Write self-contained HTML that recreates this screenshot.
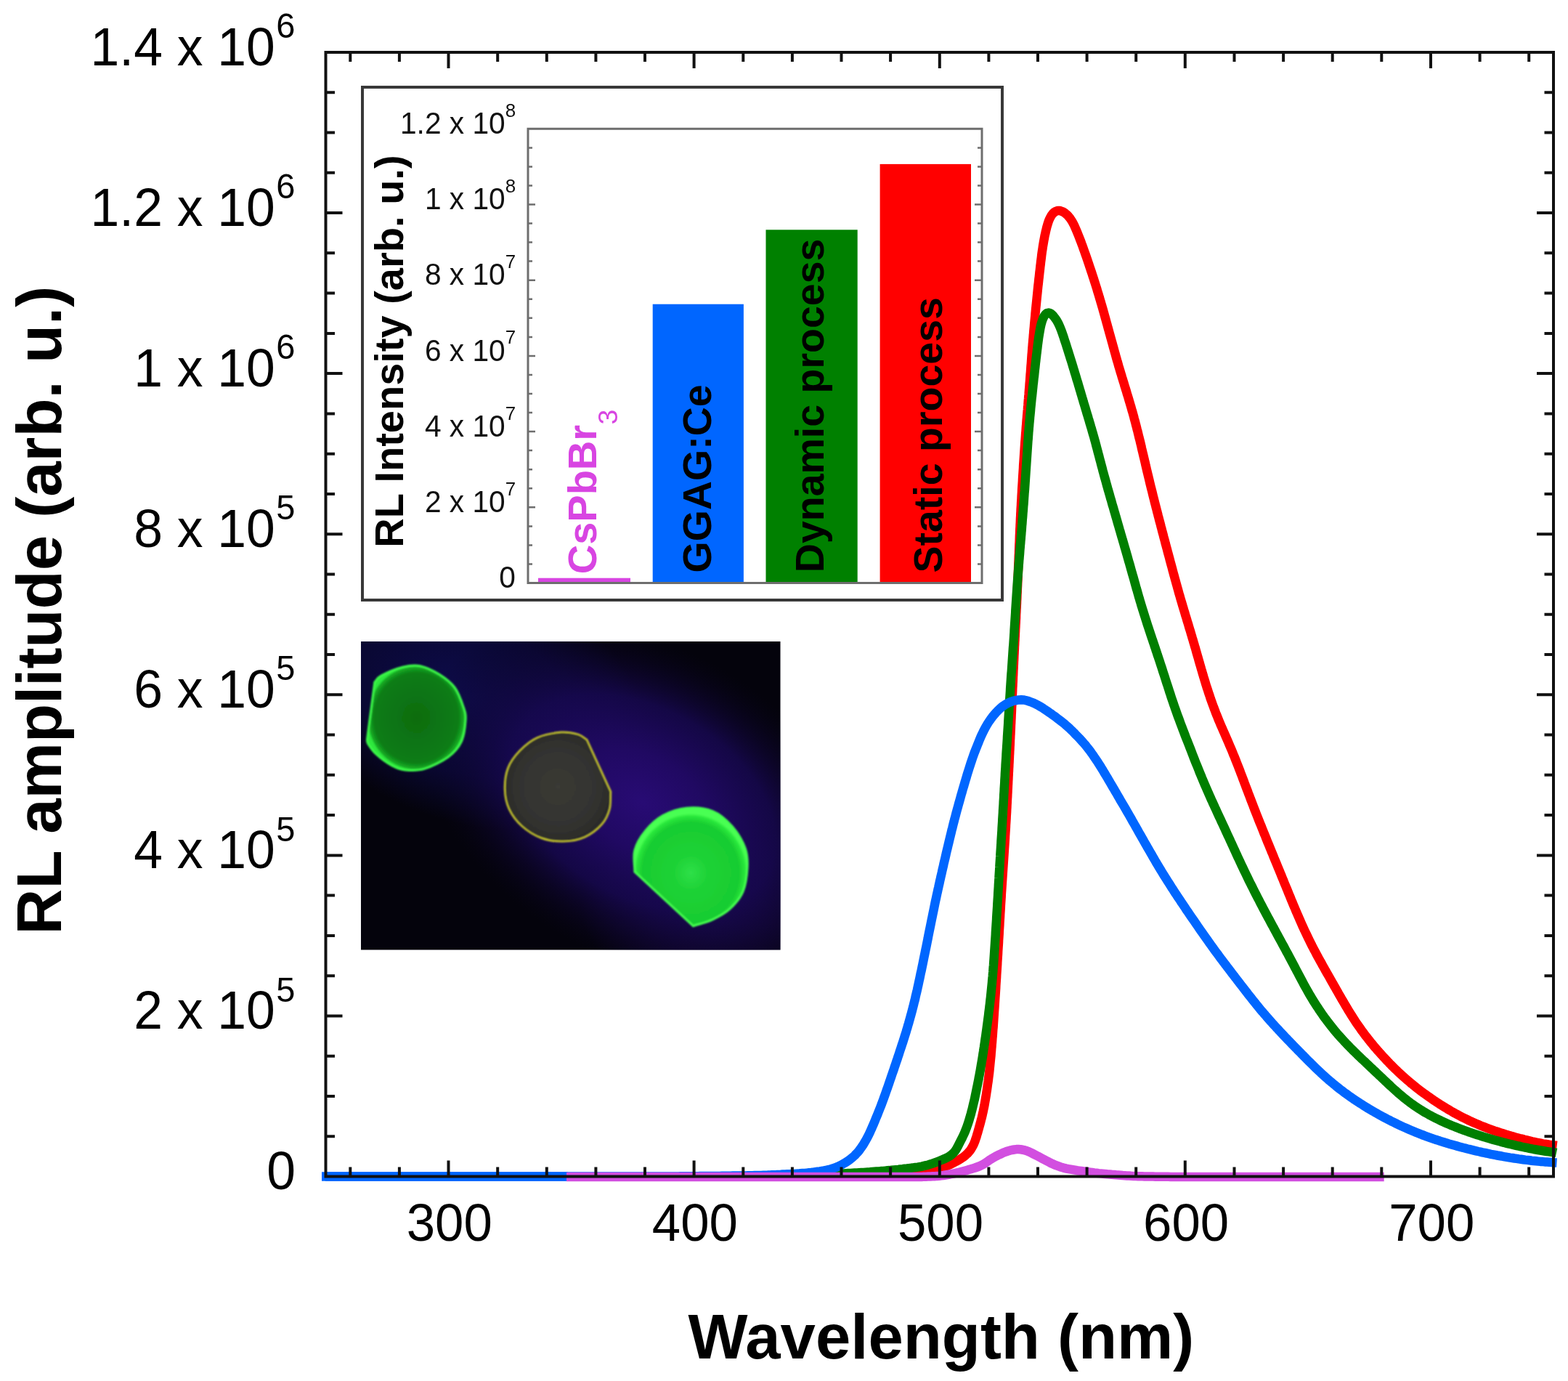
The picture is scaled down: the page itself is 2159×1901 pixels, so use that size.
<!DOCTYPE html><html><head><meta charset="utf-8"><title>RL amplitude vs Wavelength</title>
<style>html,body{margin:0;padding:0;background:#fff;}body{width:2159px;height:1901px;overflow:hidden;}svg{display:block;}text{font-family:'Liberation Sans', Arial, Helvetica, sans-serif;}</style></head><body>
<svg xmlns="http://www.w3.org/2000/svg" width="2159" height="1901" viewBox="0 0 2159 1901">
<defs>
<radialGradient id="glow" cx="0" cy="0" r="1" gradientUnits="userSpaceOnUse" gradientTransform="translate(885,1105) rotate(30) scale(330,215)">
<stop offset="0" stop-color="#280b74"/><stop offset="0.3" stop-color="#200962"/><stop offset="0.6" stop-color="#170850" stop-opacity="0.85"/><stop offset="1" stop-color="#0a0420" stop-opacity="0"/>
</radialGradient>
<radialGradient id="glow2" cx="0" cy="0" r="1" gradientUnits="userSpaceOnUse" gradientTransform="translate(640,960) rotate(20) scale(260,170)">
<stop offset="0" stop-color="#0e0c4e"/><stop offset="0.6" stop-color="#0c0a44" stop-opacity="0.7"/><stop offset="1" stop-color="#0c0a44" stop-opacity="0"/>
</radialGradient>
<radialGradient id="glow3" cx="0" cy="0" r="1" gradientUnits="userSpaceOnUse" gradientTransform="translate(980,1250) rotate(0) scale(180,120)">
<stop offset="0" stop-color="#1e0a5a" stop-opacity="0.8"/><stop offset="1" stop-color="#1e0a5a" stop-opacity="0"/>
</radialGradient>
<radialGradient id="c1" cx="0.5" cy="0.5" r="0.5">
<stop offset="0" stop-color="#096c10"/><stop offset="0.85" stop-color="#0b7c15"/><stop offset="0.96" stop-color="#16a824"/><stop offset="1" stop-color="#2ee83c"/>
</radialGradient>
<radialGradient id="c3" cx="0.5" cy="0.55" r="0.5">
<stop offset="0" stop-color="#2ee048"/><stop offset="0.3" stop-color="#1ed236"/><stop offset="0.85" stop-color="#18cc30"/><stop offset="0.96" stop-color="#2ae83c"/><stop offset="1" stop-color="#48ff52"/>
</radialGradient>
<radialGradient id="c2" cx="0.5" cy="0.5" r="0.5">
<stop offset="0" stop-color="#3a3a34"/><stop offset="0.7" stop-color="#333330"/><stop offset="1" stop-color="#2c2c2a"/>
</radialGradient>
<filter id="bl" x="-10%" y="-10%" width="120%" height="120%"><feGaussianBlur stdDeviation="0.9"/></filter>
</defs>

<rect x="497" y="883" width="577.5" height="424.5" fill="#04030c"/>
<rect x="497" y="883" width="577.5" height="424.5" fill="url(#glow2)"/>
<rect x="497" y="883" width="577.5" height="424.5" fill="url(#glow3)"/>
<rect x="497" y="883" width="577.5" height="424.5" fill="url(#glow)"/>
<g filter="url(#bl)">
<path d="M515.8,939.1 C518.8,936.1 518.3,933.6 524.8,930.1 C531.3,926.6 545.6,920.4 554.6,918.2 C563.6,916.0 570.0,915.0 578.5,916.7 C587.0,918.4 597.3,923.6 605.3,928.6 C613.2,933.6 620.7,939.0 626.2,946.5 C631.7,954.0 635.7,965.9 638.2,973.4 C640.7,980.9 641.6,983.3 641.1,991.3 C640.6,999.2 639.2,1012.6 635.2,1021.1 C631.2,1029.5 625.8,1035.8 617.3,1042.0 C608.8,1048.2 594.3,1055.4 584.4,1058.4 C574.5,1061.4 565.0,1060.6 557.6,1059.9 C550.2,1059.2 546.2,1057.5 539.7,1054.0 C533.2,1050.5 524.3,1044.0 518.8,1039.0 C513.3,1034.0 509.1,1027.6 506.9,1024.1 C504.7,1020.6 505.9,1020.2 505.4,1018.2 L515.8,939.1 Z" fill="url(#c1)" stroke="#3dfa4a" stroke-width="3"/>
<path d="M772.4,1007.7 C781.8,1007.0 790.3,1009.0 796.3,1010.7 C802.3,1012.5 804.3,1015.7 808.3,1018.2 L841.1,1089.8 C840.6,1097.8 841.6,1106.2 839.6,1113.7 C837.6,1121.2 834.8,1128.0 829.1,1134.5 C823.4,1141.0 814.2,1148.4 805.3,1152.4 C796.3,1156.4 785.3,1158.2 775.4,1158.4 C765.5,1158.7 755.0,1157.4 745.6,1153.9 C736.2,1150.4 726.2,1144.2 718.7,1137.5 C711.2,1130.8 704.8,1122.2 700.8,1113.7 C696.8,1105.2 695.1,1096.2 694.9,1086.8 C694.6,1077.3 695.8,1066.0 699.3,1057.0 C702.8,1048.0 709.0,1040.1 715.7,1033.1 C722.4,1026.1 730.2,1019.4 739.6,1015.2 C749.0,1011.0 763.0,1008.5 772.4,1007.7 Z" fill="url(#c2)" stroke="#cccc2a" stroke-width="2.2"/>
<path d="M945.5,1112.2 C956.9,1111.2 970.8,1112.4 981.3,1116.6 C991.8,1120.8 1000.7,1129.0 1008.2,1137.5 C1015.7,1146.0 1022.6,1158.0 1026.1,1167.4 C1029.6,1176.9 1029.6,1184.2 1029.1,1194.2 C1028.6,1204.2 1027.1,1217.6 1023.1,1227.1 C1019.1,1236.5 1012.2,1244.5 1005.2,1250.9 C998.2,1257.4 989.8,1261.8 981.3,1265.8 C972.8,1269.8 963.4,1271.8 954.5,1274.8 L873.9,1200.2 C873.9,1190.3 871.4,1179.9 873.9,1170.4 C876.4,1161.0 882.3,1151.5 888.8,1143.5 C895.3,1135.5 903.2,1127.8 912.7,1122.6 C922.2,1117.4 934.1,1113.2 945.5,1112.2 Z" fill="url(#c3)" stroke="#45ff50" stroke-width="3"/>
</g>

<rect x="499" y="120" width="881" height="706" fill="none" stroke="#383838" stroke-width="4"/>
<rect x="741" y="795.7" width="127" height="6.8" fill="#d845e2"/>
<rect x="898.7" y="418.7" width="125.2" height="383.8" fill="#0066ff"/>
<rect x="1054.5" y="316.3" width="126.2" height="486.2" fill="#008000"/>
<rect x="1211.6" y="225.9" width="125.4" height="576.6" fill="#ff0000"/>
<rect x="727" y="177.3" width="625" height="625.2" fill="none" stroke="#6e6e6e" stroke-width="3"/>
<path d="M727,776.5h6 M1352,776.5h-6 M727,750.4h6 M1352,750.4h-6 M727,724.4h6 M1352,724.4h-6 M727,698.3h10 M1352,698.3h-10 M727,672.2h6 M1352,672.2h-6 M727,646.2h6 M1352,646.2h-6 M727,620.1h6 M1352,620.1h-6 M727,594.1h10 M1352,594.1h-10 M727,568.0h6 M1352,568.0h-6 M727,542.0h6 M1352,542.0h-6 M727,516.0h6 M1352,516.0h-6 M727,489.9h10 M1352,489.9h-10 M727,463.9h6 M1352,463.9h-6 M727,437.8h6 M1352,437.8h-6 M727,411.8h6 M1352,411.8h-6 M727,385.7h10 M1352,385.7h-10 M727,359.6h6 M1352,359.6h-6 M727,333.6h6 M1352,333.6h-6 M727,307.5h6 M1352,307.5h-6 M727,281.5h10 M1352,281.5h-10 M727,255.4h6 M1352,255.4h-6 M727,229.4h6 M1352,229.4h-6 M727,203.4h6 M1352,203.4h-6" stroke="#6e6e6e" stroke-width="2.5" fill="none"/>
<text transform="translate(710,809.1) scale(1,1.025)" font-size="40.7" text-anchor="end" fill="#111">0</text>
<text transform="translate(710.2,704.9) scale(1,1.025)" font-size="40.7" text-anchor="end" fill="#111">2 x 10<tspan font-size="26" dy="-22.5">7</tspan></text>
<text transform="translate(710.2,600.7) scale(1,1.025)" font-size="40.7" text-anchor="end" fill="#111">4 x 10<tspan font-size="26" dy="-22.5">7</tspan></text>
<text transform="translate(710.2,496.5) scale(1,1.025)" font-size="40.7" text-anchor="end" fill="#111">6 x 10<tspan font-size="26" dy="-22.5">7</tspan></text>
<text transform="translate(710.2,392.3) scale(1,1.025)" font-size="40.7" text-anchor="end" fill="#111">8 x 10<tspan font-size="26" dy="-22.5">7</tspan></text>
<text transform="translate(710.2,288.1) scale(1,1.025)" font-size="40.7" text-anchor="end" fill="#111">1 x 10<tspan font-size="26" dy="-22.5">8</tspan></text>
<text transform="translate(710.2,183.9) scale(1,1.025)" font-size="40.7" text-anchor="end" fill="#111">1.2 x 10<tspan font-size="26" dy="-22.5">8</tspan></text>
<text transform="translate(555,753.8) rotate(-90)" font-size="56" font-weight="bold" fill="#000">RL Intensity (arb. u.)</text>
<text transform="translate(820.5,790.3) rotate(-90)" font-size="56" font-weight="bold" fill="#d845e2">CsPbBr<tspan font-size="37.5" font-weight="normal" dx="0.4" dy="29.6">3</tspan></text>
<text transform="translate(978.9,788.4) rotate(-90)" font-size="55.5" font-weight="bold" fill="#000">GGAG:Ce</text>
<text transform="translate(1134,788.2) rotate(-90)" font-size="55.5" font-weight="bold" fill="#000">Dynamic process</text>
<text transform="translate(1296.6,788.5) rotate(-90)" font-size="55.5" font-weight="bold" fill="#000">Static process</text>
<path d="M443,1619.5 H782" stroke="#0066ff" stroke-width="12.5" fill="none"/>
<path d="M1050.0,1619.5 L1053.0,1619.5 L1056.0,1619.5 L1059.0,1619.5 L1062.0,1619.5 L1065.0,1619.4 L1068.0,1619.4 L1071.0,1619.4 L1074.0,1619.4 L1077.0,1619.4 L1080.0,1619.4 L1083.0,1619.4 L1086.0,1619.4 L1089.0,1619.3 L1092.0,1619.3 L1095.0,1619.3 L1098.0,1619.3 L1101.0,1619.3 L1104.0,1619.3 L1107.0,1619.3 L1110.0,1619.2 L1113.0,1619.2 L1116.0,1619.2 L1119.0,1619.2 L1122.0,1619.2 L1125.0,1619.1 L1128.0,1619.1 L1131.0,1619.1 L1134.0,1619.1 L1137.0,1619.0 L1140.0,1619.0 L1143.0,1619.0 L1146.0,1618.9 L1149.0,1618.9 L1152.0,1618.8 L1155.0,1618.8 L1158.0,1618.8 L1161.0,1618.7 L1164.0,1618.7 L1167.0,1618.6 L1170.0,1618.5 L1173.0,1618.5 L1176.0,1618.4 L1179.0,1618.3 L1182.0,1618.2 L1185.0,1618.1 L1188.0,1618.0 L1191.0,1617.9 L1194.0,1617.8 L1197.0,1617.7 L1200.0,1617.6 L1203.0,1617.5 L1206.0,1617.4 L1209.0,1617.3 L1212.0,1617.1 L1215.0,1617.0 L1217.9,1616.9 L1220.9,1616.7 L1223.9,1616.5 L1226.9,1616.4 L1229.9,1616.2 L1232.9,1616.0 L1235.9,1615.8 L1238.9,1615.6 L1241.9,1615.3 L1244.9,1615.1 L1247.9,1614.8 L1250.9,1614.5 L1253.8,1614.3 L1256.8,1614.0 L1259.8,1613.6 L1262.8,1613.3 L1265.8,1613.0 L1268.7,1612.6 L1271.7,1612.2 L1274.7,1611.8 L1277.7,1611.4 L1280.6,1611.0 L1283.6,1610.5 L1286.5,1610.0 L1289.5,1609.4 L1292.4,1608.8 L1295.3,1608.0 L1298.2,1607.0 L1301.0,1606.0 L1303.8,1604.9 L1306.5,1603.8 L1309.2,1602.5 L1311.9,1601.2 L1314.5,1599.8 L1317.2,1598.4 L1319.8,1597.0 L1322.3,1595.4 L1324.8,1593.8 L1327.3,1592.1 L1329.6,1590.2 L1331.8,1588.2 L1333.8,1586.0 L1335.7,1583.7 L1337.4,1581.2 L1338.9,1578.6 L1340.3,1576.0 L1341.5,1573.3 L1342.6,1570.5 L1343.5,1567.6 L1344.5,1564.8 L1345.3,1561.9 L1346.2,1559.1 L1347.0,1556.2 L1347.8,1553.3 L1348.6,1550.4 L1349.4,1547.5 L1350.2,1544.6 L1350.9,1541.7 L1351.7,1538.8 L1352.4,1535.9 L1353.0,1533.0 L1353.7,1530.1 L1354.3,1527.1 L1354.9,1524.2 L1355.5,1521.2 L1356.0,1518.3 L1356.5,1515.4 L1357.0,1512.4 L1357.5,1509.4 L1358.0,1506.5 L1358.4,1503.5 L1358.9,1500.6 L1359.3,1497.6 L1359.7,1494.6 L1360.1,1491.7 L1360.6,1488.7 L1361.0,1485.7 L1361.3,1482.8 L1361.7,1479.8 L1362.1,1476.8 L1362.4,1473.8 L1362.7,1470.9 L1363.0,1467.9 L1363.3,1464.9 L1363.6,1461.9 L1363.9,1458.9 L1364.2,1455.9 L1364.5,1453.0 L1364.7,1450.0 L1365.0,1447.0 L1365.2,1444.0 L1365.5,1441.0 L1365.7,1438.0 L1366.0,1435.0 L1366.2,1432.0 L1366.4,1429.0 L1366.7,1426.1 L1366.9,1423.1 L1367.1,1420.1 L1367.3,1417.1 L1367.6,1414.1 L1367.8,1411.1 L1368.0,1408.1 L1368.2,1405.1 L1368.4,1402.1 L1368.6,1399.1 L1368.8,1396.1 L1369.0,1393.1 L1369.2,1390.1 L1369.4,1387.2 L1369.6,1384.2 L1369.8,1381.2 L1370.0,1378.2 L1370.2,1375.2 L1370.4,1372.2 L1370.6,1369.2 L1370.8,1366.2 L1371.0,1363.2 L1371.2,1360.2 L1371.3,1357.2 L1371.5,1354.2 L1371.7,1351.2 L1371.9,1348.2 L1372.1,1345.2 L1372.2,1342.2 L1372.4,1339.3 L1372.6,1336.3 L1372.8,1333.3 L1373.0,1330.3 L1373.2,1327.3 L1373.3,1324.3 L1373.5,1321.3 L1373.7,1318.3 L1373.9,1315.3 L1374.1,1312.3 L1374.2,1309.3 L1374.4,1306.3 L1374.6,1303.3 L1374.8,1300.3 L1375.0,1297.3 L1375.1,1294.3 L1375.3,1291.3 L1375.5,1288.3 L1375.7,1285.3 L1375.8,1282.4 L1376.0,1279.4 L1376.2,1276.4 L1376.4,1273.4 L1376.5,1270.4 L1376.7,1267.4 L1376.9,1264.4 L1377.1,1261.4 L1377.2,1258.4 L1377.4,1255.4 L1377.6,1252.4 L1377.8,1249.4 L1377.9,1246.4 L1378.1,1243.4 L1378.3,1240.4 L1378.5,1237.4 L1378.7,1234.4 L1378.8,1231.4 L1379.0,1228.4 L1379.2,1225.5 L1379.4,1222.5 L1379.6,1219.5 L1379.8,1216.5 L1380.0,1213.5 L1380.2,1210.5 L1380.4,1207.5 L1380.6,1204.5 L1380.8,1201.5 L1381.0,1198.5 L1381.2,1195.5 L1381.4,1192.5 L1381.6,1189.5 L1381.8,1186.5 L1382.0,1183.5 L1382.2,1180.6 L1382.4,1177.6 L1382.6,1174.6 L1382.8,1171.6 L1383.0,1168.6 L1383.2,1165.6 L1383.4,1162.6 L1383.6,1159.6 L1383.8,1156.6 L1384.0,1153.6 L1384.1,1150.6 L1384.3,1147.6 L1384.5,1144.6 L1384.7,1141.6 L1384.9,1138.6 L1385.0,1135.6 L1385.2,1132.7 L1385.4,1129.7 L1385.6,1126.7 L1385.7,1123.7 L1385.9,1120.7 L1386.1,1117.7 L1386.2,1114.7 L1386.4,1111.7 L1386.5,1108.7 L1386.7,1105.7 L1386.8,1102.7 L1387.0,1099.7 L1387.2,1096.7 L1387.3,1093.7 L1387.5,1090.7 L1387.6,1087.7 L1387.8,1084.7 L1387.9,1081.7 L1388.1,1078.7 L1388.2,1075.7 L1388.4,1072.7 L1388.5,1069.7 L1388.7,1066.7 L1388.8,1063.7 L1389.0,1060.8 L1389.1,1057.8 L1389.3,1054.8 L1389.4,1051.8 L1389.6,1048.8 L1389.7,1045.8 L1389.9,1042.8 L1390.0,1039.8 L1390.2,1036.8 L1390.3,1033.8 L1390.5,1030.8 L1390.6,1027.8 L1390.8,1024.8 L1390.9,1021.8 L1391.0,1018.8 L1391.2,1015.8 L1391.3,1012.8 L1391.5,1009.8 L1391.6,1006.8 L1391.8,1003.8 L1391.9,1000.8 L1392.0,997.8 L1392.2,994.8 L1392.3,991.8 L1392.5,988.8 L1392.6,985.8 L1392.7,982.8 L1392.9,979.8 L1393.0,976.8 L1393.1,973.9 L1393.3,970.9 L1393.4,967.9 L1393.5,964.9 L1393.7,961.9 L1393.8,958.9 L1393.9,955.9 L1394.1,952.9 L1394.2,949.9 L1394.3,946.9 L1394.5,943.9 L1394.6,940.9 L1394.8,937.9 L1394.9,934.9 L1395.0,931.9 L1395.2,928.9 L1395.3,925.9 L1395.4,922.9 L1395.6,919.9 L1395.7,916.9 L1395.9,913.9 L1396.0,910.9 L1396.2,907.9 L1396.3,904.9 L1396.4,901.9 L1396.6,898.9 L1396.7,895.9 L1396.9,892.9 L1397.0,889.9 L1397.2,886.9 L1397.3,883.9 L1397.5,881.0 L1397.6,878.0 L1397.8,875.0 L1397.9,872.0 L1398.1,869.0 L1398.2,866.0 L1398.4,863.0 L1398.5,860.0 L1398.7,857.0 L1398.8,854.0 L1399.0,851.0 L1399.1,848.0 L1399.2,845.0 L1399.4,842.0 L1399.5,839.0 L1399.7,836.0 L1399.8,833.0 L1400.0,830.0 L1400.1,827.0 L1400.3,824.0 L1400.4,821.0 L1400.5,818.0 L1400.7,815.0 L1400.8,812.0 L1400.9,809.0 L1401.1,806.0 L1401.2,803.0 L1401.3,800.0 L1401.5,797.0 L1401.6,794.1 L1401.7,791.1 L1401.9,788.1 L1402.0,785.1 L1402.1,782.1 L1402.2,779.1 L1402.3,776.1 L1402.5,773.1 L1402.6,770.1 L1402.7,767.1 L1402.8,764.1 L1403.0,761.1 L1403.1,758.1 L1403.2,755.1 L1403.3,752.1 L1403.4,749.1 L1403.6,746.1 L1403.7,743.1 L1403.8,740.1 L1403.9,737.1 L1404.1,734.1 L1404.2,731.1 L1404.3,728.1 L1404.5,725.1 L1404.6,722.1 L1404.8,719.1 L1404.9,716.1 L1405.0,713.1 L1405.2,710.1 L1405.3,707.1 L1405.5,704.1 L1405.6,701.1 L1405.8,698.1 L1406.0,695.2 L1406.1,692.2 L1406.3,689.2 L1406.5,686.2 L1406.6,683.2 L1406.8,680.2 L1407.0,677.2 L1407.1,674.2 L1407.3,671.2 L1407.5,668.2 L1407.7,665.2 L1407.9,662.2 L1408.0,659.2 L1408.2,656.2 L1408.4,653.2 L1408.6,650.2 L1408.8,647.2 L1409.0,644.2 L1409.1,641.2 L1409.3,638.3 L1409.5,635.3 L1409.7,632.3 L1409.9,629.3 L1410.1,626.3 L1410.3,623.3 L1410.5,620.3 L1410.7,617.3 L1410.9,614.3 L1411.1,611.3 L1411.3,608.3 L1411.6,605.3 L1411.8,602.3 L1412.0,599.3 L1412.2,596.4 L1412.5,593.4 L1412.7,590.4 L1412.9,587.4 L1413.2,584.4 L1413.4,581.4 L1413.6,578.4 L1413.9,575.4 L1414.1,572.4 L1414.4,569.4 L1414.6,566.5 L1414.9,563.5 L1415.1,560.5 L1415.4,557.5 L1415.6,554.5 L1415.8,551.5 L1416.1,548.5 L1416.3,545.5 L1416.6,542.5 L1416.8,539.5 L1417.0,536.6 L1417.3,533.6 L1417.5,530.6 L1417.7,527.6 L1418.0,524.6 L1418.2,521.6 L1418.4,518.6 L1418.6,515.6 L1418.9,512.6 L1419.1,509.6 L1419.3,506.6 L1419.5,503.6 L1419.8,500.7 L1420.0,497.7 L1420.2,494.7 L1420.4,491.7 L1420.6,488.7 L1420.9,485.7 L1421.1,482.7 L1421.3,479.7 L1421.6,476.7 L1421.8,473.7 L1422.1,470.7 L1422.3,467.8 L1422.6,464.8 L1422.8,461.8 L1423.1,458.8 L1423.3,455.8 L1423.6,452.8 L1423.9,449.8 L1424.1,446.8 L1424.4,443.9 L1424.7,440.9 L1425.0,437.9 L1425.3,434.9 L1425.5,431.9 L1425.8,428.9 L1426.1,425.9 L1426.4,422.9 L1426.7,420.0 L1427.0,417.0 L1427.3,414.0 L1427.6,411.0 L1427.9,408.0 L1428.2,405.0 L1428.5,402.1 L1428.8,399.1 L1429.1,396.1 L1429.4,393.1 L1429.8,390.1 L1430.1,387.1 L1430.4,384.2 L1430.8,381.2 L1431.1,378.2 L1431.4,375.2 L1431.8,372.2 L1432.1,369.3 L1432.4,366.3 L1432.8,363.3 L1433.1,360.3 L1433.5,357.4 L1433.9,354.4 L1434.2,351.4 L1434.6,348.4 L1435.0,345.5 L1435.5,342.5 L1435.9,339.5 L1436.4,336.6 L1436.9,333.6 L1437.4,330.7 L1438.0,327.7 L1438.5,324.8 L1439.2,321.9 L1439.8,319.0 L1440.5,316.1 L1441.2,313.2 L1442.0,310.3 L1442.9,307.4 L1443.8,304.6 L1444.9,301.9 L1446.2,299.2 L1447.6,296.7 L1449.3,294.4 L1451.4,292.4 L1453.8,290.9 L1456.5,290.0 L1459.4,290.1 L1462.1,290.9 L1464.7,292.2 L1467.1,293.9 L1469.3,295.8 L1471.3,297.9 L1473.2,300.2 L1474.8,302.6 L1476.4,305.1 L1477.8,307.7 L1479.1,310.3 L1480.3,313.0 L1481.5,315.7 L1482.7,318.5 L1483.8,321.3 L1484.9,324.0 L1486.0,326.8 L1487.1,329.6 L1488.2,332.4 L1489.2,335.2 L1490.3,338.0 L1491.3,340.8 L1492.3,343.7 L1493.3,346.5 L1494.3,349.3 L1495.3,352.1 L1496.3,355.0 L1497.3,357.8 L1498.2,360.6 L1499.2,363.5 L1500.1,366.3 L1501.1,369.2 L1502.0,372.0 L1503.0,374.9 L1503.9,377.7 L1504.8,380.6 L1505.8,383.4 L1506.7,386.3 L1507.6,389.1 L1508.5,392.0 L1509.4,394.8 L1510.3,397.7 L1511.1,400.6 L1512.0,403.4 L1512.9,406.3 L1513.7,409.2 L1514.6,412.1 L1515.4,414.9 L1516.3,417.8 L1517.1,420.7 L1518.0,423.6 L1518.8,426.5 L1519.6,429.4 L1520.4,432.2 L1521.2,435.1 L1522.0,438.0 L1522.8,440.9 L1523.6,443.8 L1524.4,446.7 L1525.2,449.6 L1526.0,452.5 L1526.8,455.4 L1527.6,458.3 L1528.4,461.2 L1529.2,464.1 L1530.0,466.9 L1530.8,469.8 L1531.6,472.7 L1532.4,475.6 L1533.2,478.5 L1534.0,481.4 L1534.8,484.3 L1535.6,487.2 L1536.4,490.1 L1537.2,493.0 L1538.0,495.8 L1538.9,498.7 L1539.7,501.6 L1540.5,504.5 L1541.4,507.4 L1542.2,510.2 L1543.1,513.1 L1544.0,516.0 L1544.8,518.8 L1545.7,521.7 L1546.6,524.6 L1547.5,527.4 L1548.3,530.3 L1549.2,533.2 L1550.1,536.0 L1551.0,538.9 L1551.8,541.8 L1552.7,544.6 L1553.6,547.5 L1554.4,550.4 L1555.3,553.3 L1556.1,556.1 L1557.0,559.0 L1557.8,561.9 L1558.6,564.8 L1559.5,567.7 L1560.3,570.6 L1561.1,573.4 L1561.8,576.3 L1562.6,579.2 L1563.4,582.1 L1564.1,585.0 L1564.9,587.9 L1565.6,590.8 L1566.4,593.7 L1567.1,596.7 L1567.8,599.6 L1568.5,602.5 L1569.3,605.4 L1570.0,608.3 L1570.7,611.2 L1571.4,614.1 L1572.0,617.1 L1572.7,620.0 L1573.4,622.9 L1574.1,625.8 L1574.8,628.7 L1575.5,631.7 L1576.2,634.6 L1576.9,637.5 L1577.5,640.4 L1578.2,643.3 L1578.9,646.3 L1579.6,649.2 L1580.3,652.1 L1581.0,655.0 L1581.7,657.9 L1582.4,660.8 L1583.1,663.8 L1583.8,666.7 L1584.5,669.6 L1585.2,672.5 L1586.0,675.4 L1586.7,678.3 L1587.4,681.2 L1588.1,684.1 L1588.9,687.1 L1589.6,690.0 L1590.3,692.9 L1591.1,695.8 L1591.8,698.7 L1592.6,701.6 L1593.3,704.5 L1594.1,707.4 L1594.8,710.3 L1595.6,713.2 L1596.3,716.1 L1597.1,719.0 L1597.9,721.9 L1598.6,724.8 L1599.4,727.7 L1600.1,730.6 L1600.9,733.5 L1601.7,736.4 L1602.4,739.3 L1603.2,742.2 L1604.0,745.1 L1604.7,748.0 L1605.5,750.9 L1606.3,753.8 L1607.1,756.7 L1607.8,759.6 L1608.6,762.5 L1609.4,765.4 L1610.2,768.3 L1610.9,771.2 L1611.7,774.1 L1612.5,777.0 L1613.3,779.9 L1614.1,782.8 L1614.8,785.7 L1615.6,788.6 L1616.4,791.5 L1617.2,794.4 L1618.0,797.3 L1618.8,800.2 L1619.6,803.1 L1620.4,805.9 L1621.2,808.8 L1622.0,811.7 L1622.8,814.6 L1623.6,817.5 L1624.5,820.4 L1625.3,823.3 L1626.1,826.1 L1627.0,829.0 L1627.8,831.9 L1628.7,834.8 L1629.5,837.6 L1630.4,840.5 L1631.3,843.4 L1632.1,846.3 L1633.0,849.1 L1633.9,852.0 L1634.7,854.9 L1635.6,857.7 L1636.5,860.6 L1637.3,863.5 L1638.2,866.3 L1639.1,869.2 L1639.9,872.1 L1640.8,875.0 L1641.6,877.8 L1642.5,880.7 L1643.3,883.6 L1644.2,886.5 L1645.0,889.3 L1645.9,892.2 L1646.7,895.1 L1647.5,898.0 L1648.3,900.9 L1649.2,903.8 L1650.0,906.6 L1650.8,909.5 L1651.6,912.4 L1652.5,915.3 L1653.3,918.2 L1654.1,921.0 L1655.0,923.9 L1655.8,926.8 L1656.7,929.7 L1657.5,932.5 L1658.4,935.4 L1659.3,938.3 L1660.1,941.1 L1661.0,944.0 L1661.9,946.9 L1662.9,949.7 L1663.8,952.6 L1664.7,955.4 L1665.7,958.2 L1666.6,961.1 L1667.6,963.9 L1668.6,966.7 L1669.6,969.5 L1670.7,972.4 L1671.7,975.2 L1672.8,977.9 L1673.8,980.7 L1674.9,983.5 L1676.1,986.3 L1677.2,989.1 L1678.3,991.8 L1679.5,994.6 L1680.6,997.3 L1681.8,1000.1 L1683.0,1002.8 L1684.2,1005.6 L1685.4,1008.3 L1686.6,1011.0 L1687.8,1013.8 L1689.0,1016.5 L1690.2,1019.3 L1691.4,1022.0 L1692.5,1024.8 L1693.7,1027.5 L1694.9,1030.3 L1696.1,1033.0 L1697.2,1035.8 L1698.3,1038.6 L1699.5,1041.3 L1700.6,1044.1 L1701.7,1046.9 L1702.8,1049.7 L1703.9,1052.5 L1705.0,1055.3 L1706.1,1058.1 L1707.2,1060.9 L1708.2,1063.7 L1709.3,1066.5 L1710.4,1069.3 L1711.4,1072.1 L1712.5,1074.9 L1713.5,1077.7 L1714.6,1080.5 L1715.6,1083.3 L1716.7,1086.1 L1717.8,1088.9 L1718.8,1091.7 L1719.9,1094.5 L1721.0,1097.3 L1722.0,1100.1 L1723.1,1102.9 L1724.2,1105.7 L1725.3,1108.5 L1726.3,1111.3 L1727.4,1114.1 L1728.5,1116.9 L1729.6,1119.7 L1730.7,1122.5 L1731.8,1125.3 L1732.9,1128.1 L1734.0,1130.9 L1735.1,1133.6 L1736.3,1136.4 L1737.4,1139.2 L1738.5,1142.0 L1739.6,1144.8 L1740.7,1147.6 L1741.9,1150.3 L1743.0,1153.1 L1744.1,1155.9 L1745.2,1158.7 L1746.4,1161.5 L1747.5,1164.2 L1748.6,1167.0 L1749.8,1169.8 L1750.9,1172.6 L1752.1,1175.3 L1753.2,1178.1 L1754.3,1180.9 L1755.5,1183.7 L1756.6,1186.4 L1757.8,1189.2 L1758.9,1192.0 L1760.0,1194.8 L1761.2,1197.5 L1762.3,1200.3 L1763.5,1203.1 L1764.6,1205.9 L1765.7,1208.6 L1766.9,1211.4 L1768.0,1214.2 L1769.1,1217.0 L1770.3,1219.7 L1771.4,1222.5 L1772.6,1225.3 L1773.7,1228.1 L1774.8,1230.8 L1776.0,1233.6 L1777.1,1236.4 L1778.2,1239.2 L1779.4,1241.9 L1780.5,1244.7 L1781.7,1247.5 L1782.9,1250.2 L1784.0,1253.0 L1785.2,1255.8 L1786.4,1258.5 L1787.6,1261.3 L1788.8,1264.0 L1790.0,1266.8 L1791.2,1269.5 L1792.4,1272.2 L1793.6,1275.0 L1794.9,1277.7 L1796.1,1280.4 L1797.4,1283.1 L1798.7,1285.8 L1800.0,1288.5 L1801.3,1291.2 L1802.6,1293.9 L1803.9,1296.6 L1805.3,1299.3 L1806.6,1302.0 L1808.0,1304.6 L1809.4,1307.3 L1810.8,1309.9 L1812.2,1312.6 L1813.6,1315.2 L1815.0,1317.9 L1816.5,1320.5 L1817.9,1323.1 L1819.4,1325.7 L1820.8,1328.4 L1822.3,1331.0 L1823.8,1333.6 L1825.2,1336.2 L1826.7,1338.8 L1828.2,1341.4 L1829.7,1344.0 L1831.2,1346.6 L1832.6,1349.2 L1834.1,1351.8 L1835.6,1354.4 L1837.1,1357.1 L1838.6,1359.7 L1840.1,1362.3 L1841.6,1364.9 L1843.0,1367.5 L1844.5,1370.1 L1846.0,1372.7 L1847.5,1375.3 L1849.0,1377.8 L1850.5,1380.4 L1852.0,1383.0 L1853.6,1385.6 L1855.1,1388.2 L1856.6,1390.7 L1858.2,1393.3 L1859.8,1395.8 L1861.4,1398.4 L1863.0,1400.9 L1864.6,1403.4 L1866.2,1405.9 L1867.9,1408.4 L1869.6,1410.8 L1871.3,1413.3 L1873.0,1415.7 L1874.7,1418.2 L1876.5,1420.6 L1878.3,1423.0 L1880.1,1425.4 L1881.9,1427.7 L1883.8,1430.1 L1885.6,1432.4 L1887.5,1434.8 L1889.4,1437.1 L1891.3,1439.4 L1893.2,1441.7 L1895.2,1443.9 L1897.1,1446.2 L1899.1,1448.4 L1901.1,1450.7 L1903.1,1452.9 L1905.1,1455.1 L1907.2,1457.3 L1909.2,1459.5 L1911.3,1461.6 L1913.3,1463.8 L1915.4,1465.9 L1917.5,1468.1 L1919.7,1470.2 L1921.8,1472.2 L1924.0,1474.3 L1926.1,1476.4 L1928.3,1478.4 L1930.5,1480.4 L1932.7,1482.4 L1935.0,1484.4 L1937.2,1486.4 L1939.5,1488.3 L1941.8,1490.2 L1944.1,1492.2 L1946.4,1494.0 L1948.7,1495.9 L1951.1,1497.8 L1953.4,1499.6 L1955.8,1501.4 L1958.2,1503.2 L1960.6,1505.0 L1963.0,1506.7 L1965.5,1508.5 L1967.9,1510.2 L1970.4,1511.9 L1972.8,1513.6 L1975.3,1515.3 L1977.8,1516.9 L1980.3,1518.6 L1982.8,1520.2 L1985.3,1521.8 L1987.9,1523.4 L1990.4,1524.9 L1993.0,1526.5 L1995.6,1528.0 L1998.1,1529.5 L2000.7,1531.0 L2003.3,1532.5 L2006.0,1533.9 L2008.6,1535.3 L2011.2,1536.7 L2013.9,1538.1 L2016.6,1539.4 L2019.2,1540.7 L2021.9,1542.0 L2024.6,1543.3 L2027.3,1544.5 L2030.1,1545.7 L2032.8,1546.9 L2035.6,1548.1 L2038.3,1549.2 L2041.1,1550.4 L2043.9,1551.4 L2046.7,1552.5 L2049.5,1553.6 L2052.3,1554.6 L2055.1,1555.6 L2057.9,1556.6 L2060.7,1557.5 L2063.6,1558.5 L2066.4,1559.4 L2069.3,1560.3 L2072.1,1561.2 L2075.0,1562.1 L2077.9,1562.9 L2080.7,1563.8 L2083.6,1564.6 L2086.5,1565.4 L2089.4,1566.2 L2092.3,1567.0 L2095.2,1567.7 L2098.1,1568.4 L2101.0,1569.2 L2103.9,1569.9 L2106.8,1570.6 L2109.7,1571.3 L2112.7,1571.9 L2115.6,1572.5 L2118.5,1573.1 L2121.5,1573.7 L2124.4,1574.3 L2127.4,1574.8 L2130.3,1575.2 L2133.3,1575.7 L2136.3,1576.1 L2139.2,1576.5 L2142.2,1576.8 L2143.7,1577.0" stroke="#ff0000" stroke-width="12.5" fill="none" stroke-linejoin="round" stroke-linecap="butt"/>
<path d="M1000.0,1619.5 L1003.0,1619.5 L1006.0,1619.4 L1009.0,1619.4 L1012.0,1619.4 L1015.0,1619.4 L1018.0,1619.3 L1021.0,1619.3 L1024.0,1619.3 L1027.0,1619.3 L1030.0,1619.2 L1033.0,1619.2 L1036.0,1619.1 L1039.0,1619.1 L1042.0,1619.1 L1045.0,1619.0 L1048.0,1619.0 L1051.0,1618.9 L1054.0,1618.9 L1057.0,1618.8 L1060.0,1618.8 L1063.0,1618.7 L1066.0,1618.7 L1069.0,1618.6 L1072.0,1618.5 L1075.0,1618.5 L1078.0,1618.4 L1081.0,1618.3 L1084.0,1618.3 L1087.0,1618.2 L1090.0,1618.1 L1093.0,1618.1 L1096.0,1618.0 L1099.0,1617.9 L1102.0,1617.8 L1105.0,1617.7 L1108.0,1617.6 L1111.0,1617.6 L1114.0,1617.5 L1117.0,1617.4 L1120.0,1617.3 L1123.0,1617.2 L1126.0,1617.1 L1129.0,1616.9 L1132.0,1616.8 L1135.0,1616.7 L1138.0,1616.6 L1141.0,1616.5 L1144.0,1616.3 L1146.9,1616.2 L1149.9,1616.1 L1152.9,1615.9 L1155.9,1615.8 L1158.9,1615.6 L1161.9,1615.5 L1164.9,1615.3 L1167.9,1615.1 L1170.9,1615.0 L1173.9,1614.8 L1176.9,1614.6 L1179.9,1614.4 L1182.9,1614.2 L1185.9,1614.0 L1188.9,1613.9 L1191.9,1613.7 L1194.9,1613.5 L1197.9,1613.3 L1200.8,1613.0 L1203.8,1612.8 L1206.8,1612.6 L1209.8,1612.4 L1212.8,1612.1 L1215.8,1611.9 L1218.8,1611.6 L1221.8,1611.3 L1224.8,1611.1 L1227.7,1610.8 L1230.7,1610.5 L1233.7,1610.2 L1236.7,1609.9 L1239.7,1609.5 L1242.7,1609.2 L1245.6,1608.8 L1248.6,1608.5 L1251.6,1608.1 L1254.6,1607.8 L1257.6,1607.4 L1260.5,1607.0 L1263.5,1606.6 L1266.5,1606.1 L1269.4,1605.6 L1272.3,1604.9 L1275.2,1604.2 L1278.1,1603.4 L1281.0,1602.5 L1283.9,1601.6 L1286.7,1600.6 L1289.5,1599.6 L1292.3,1598.6 L1295.0,1597.4 L1297.8,1596.2 L1300.5,1595.1 L1303.2,1593.8 L1305.8,1592.5 L1308.3,1590.9 L1310.6,1589.2 L1312.8,1587.2 L1314.7,1585.0 L1316.4,1582.5 L1317.9,1579.9 L1319.3,1577.3 L1320.6,1574.6 L1322.0,1571.9 L1323.4,1569.2 L1324.7,1566.6 L1326.0,1563.9 L1327.3,1561.1 L1328.5,1558.4 L1329.6,1555.6 L1330.7,1552.8 L1331.7,1550.0 L1332.7,1547.2 L1333.6,1544.3 L1334.5,1541.5 L1335.3,1538.6 L1336.2,1535.7 L1337.0,1532.9 L1337.7,1530.0 L1338.5,1527.1 L1339.2,1524.2 L1339.9,1521.2 L1340.6,1518.3 L1341.3,1515.4 L1342.0,1512.5 L1342.6,1509.6 L1343.2,1506.6 L1343.8,1503.7 L1344.4,1500.8 L1345.0,1497.8 L1345.6,1494.9 L1346.2,1491.9 L1346.8,1489.0 L1347.4,1486.1 L1347.9,1483.1 L1348.5,1480.2 L1349.0,1477.2 L1349.6,1474.3 L1350.1,1471.3 L1350.6,1468.4 L1351.1,1465.4 L1351.6,1462.5 L1352.1,1459.5 L1352.6,1456.5 L1353.1,1453.6 L1353.5,1450.6 L1354.0,1447.7 L1354.4,1444.7 L1354.9,1441.7 L1355.3,1438.8 L1355.8,1435.8 L1356.2,1432.8 L1356.6,1429.9 L1357.1,1426.9 L1357.5,1423.9 L1357.9,1420.9 L1358.3,1418.0 L1358.7,1415.0 L1359.1,1412.0 L1359.5,1409.1 L1359.9,1406.1 L1360.3,1403.1 L1360.7,1400.1 L1361.1,1397.2 L1361.4,1394.2 L1361.8,1391.2 L1362.2,1388.2 L1362.5,1385.2 L1362.9,1382.3 L1363.2,1379.3 L1363.5,1376.3 L1363.9,1373.3 L1364.2,1370.3 L1364.5,1367.4 L1364.8,1364.4 L1365.1,1361.4 L1365.4,1358.4 L1365.7,1355.4 L1366.0,1352.4 L1366.2,1349.5 L1366.5,1346.5 L1366.8,1343.5 L1367.0,1340.5 L1367.3,1337.5 L1367.5,1334.5 L1367.7,1331.5 L1368.0,1328.5 L1368.2,1325.5 L1368.4,1322.5 L1368.6,1319.6 L1368.8,1316.6 L1369.0,1313.6 L1369.2,1310.6 L1369.4,1307.6 L1369.6,1304.6 L1369.8,1301.6 L1370.0,1298.6 L1370.2,1295.6 L1370.4,1292.6 L1370.6,1289.6 L1370.8,1286.6 L1370.9,1283.6 L1371.1,1280.6 L1371.3,1277.6 L1371.5,1274.7 L1371.7,1271.7 L1371.9,1268.7 L1372.1,1265.7 L1372.2,1262.7 L1372.4,1259.7 L1372.6,1256.7 L1372.8,1253.7 L1373.0,1250.7 L1373.2,1247.7 L1373.3,1244.7 L1373.5,1241.7 L1373.7,1238.7 L1373.9,1235.7 L1374.1,1232.7 L1374.2,1229.7 L1374.4,1226.7 L1374.6,1223.7 L1374.8,1220.8 L1374.9,1217.8 L1375.1,1214.8 L1375.3,1211.8 L1375.5,1208.8 L1375.6,1205.8 L1375.8,1202.8 L1376.0,1199.8 L1376.2,1196.8 L1376.4,1193.8 L1376.5,1190.8 L1376.7,1187.8 L1376.9,1184.8 L1377.1,1181.8 L1377.3,1178.8 L1377.4,1175.8 L1377.6,1172.8 L1377.8,1169.8 L1378.0,1166.8 L1378.2,1163.9 L1378.4,1160.9 L1378.5,1157.9 L1378.7,1154.9 L1378.9,1151.9 L1379.1,1148.9 L1379.3,1145.9 L1379.5,1142.9 L1379.6,1139.9 L1379.8,1136.9 L1380.0,1133.9 L1380.2,1130.9 L1380.3,1127.9 L1380.5,1124.9 L1380.7,1121.9 L1380.9,1118.9 L1381.0,1115.9 L1381.2,1112.9 L1381.4,1109.9 L1381.6,1107.0 L1381.7,1104.0 L1381.9,1101.0 L1382.1,1098.0 L1382.2,1095.0 L1382.4,1092.0 L1382.6,1089.0 L1382.7,1086.0 L1382.9,1083.0 L1383.1,1080.0 L1383.3,1077.0 L1383.4,1074.0 L1383.6,1071.0 L1383.8,1068.0 L1383.9,1065.0 L1384.1,1062.0 L1384.3,1059.0 L1384.5,1056.0 L1384.6,1053.0 L1384.8,1050.0 L1385.0,1047.1 L1385.2,1044.1 L1385.4,1041.1 L1385.5,1038.1 L1385.7,1035.1 L1385.9,1032.1 L1386.1,1029.1 L1386.3,1026.1 L1386.5,1023.1 L1386.7,1020.1 L1386.9,1017.1 L1387.0,1014.1 L1387.2,1011.1 L1387.4,1008.1 L1387.6,1005.1 L1387.8,1002.1 L1388.0,999.1 L1388.2,996.2 L1388.3,993.2 L1388.5,990.2 L1388.7,987.2 L1388.9,984.2 L1389.1,981.2 L1389.3,978.2 L1389.4,975.2 L1389.6,972.2 L1389.8,969.2 L1390.0,966.2 L1390.2,963.2 L1390.4,960.2 L1390.6,957.2 L1390.8,954.2 L1391.0,951.2 L1391.1,948.2 L1391.3,945.3 L1391.5,942.3 L1391.7,939.3 L1391.9,936.3 L1392.1,933.3 L1392.3,930.3 L1392.5,927.3 L1392.8,924.3 L1393.0,921.3 L1393.2,918.3 L1393.4,915.3 L1393.6,912.3 L1393.8,909.3 L1394.0,906.3 L1394.2,903.4 L1394.4,900.4 L1394.6,897.4 L1394.8,894.4 L1395.0,891.4 L1395.3,888.4 L1395.5,885.4 L1395.7,882.4 L1395.9,879.4 L1396.1,876.4 L1396.3,873.4 L1396.5,870.4 L1396.6,867.4 L1396.8,864.4 L1397.0,861.4 L1397.2,858.5 L1397.4,855.5 L1397.6,852.5 L1397.8,849.5 L1398.0,846.5 L1398.2,843.5 L1398.3,840.5 L1398.5,837.5 L1398.7,834.5 L1398.9,831.5 L1399.1,828.5 L1399.3,825.5 L1399.5,822.5 L1399.7,819.5 L1399.9,816.5 L1400.1,813.5 L1400.3,810.6 L1400.5,807.6 L1400.7,804.6 L1400.9,801.6 L1401.1,798.6 L1401.3,795.6 L1401.6,792.6 L1401.8,789.6 L1402.0,786.6 L1402.3,783.6 L1402.5,780.6 L1402.7,777.7 L1403.0,774.7 L1403.2,771.7 L1403.5,768.7 L1403.7,765.7 L1404.0,762.7 L1404.2,759.7 L1404.4,756.7 L1404.7,753.7 L1404.9,750.7 L1405.2,747.8 L1405.4,744.8 L1405.7,741.8 L1405.9,738.8 L1406.2,735.8 L1406.4,732.8 L1406.7,729.8 L1406.9,726.8 L1407.1,723.8 L1407.4,720.8 L1407.6,717.9 L1407.8,714.9 L1408.1,711.9 L1408.3,708.9 L1408.5,705.9 L1408.8,702.9 L1409.0,699.9 L1409.2,696.9 L1409.5,693.9 L1409.7,690.9 L1409.9,687.9 L1410.1,684.9 L1410.3,682.0 L1410.5,679.0 L1410.8,676.0 L1411.0,673.0 L1411.2,670.0 L1411.4,667.0 L1411.6,664.0 L1411.8,661.0 L1412.0,658.0 L1412.2,655.0 L1412.4,652.0 L1412.6,649.0 L1412.8,646.0 L1413.0,643.0 L1413.2,640.1 L1413.4,637.1 L1413.6,634.1 L1413.8,631.1 L1414.0,628.1 L1414.2,625.1 L1414.4,622.1 L1414.6,619.1 L1414.8,616.1 L1415.0,613.1 L1415.2,610.1 L1415.4,607.1 L1415.7,604.1 L1415.9,601.1 L1416.1,598.2 L1416.3,595.2 L1416.6,592.2 L1416.8,589.2 L1417.1,586.2 L1417.3,583.2 L1417.6,580.2 L1417.9,577.2 L1418.1,574.2 L1418.4,571.3 L1418.7,568.3 L1419.0,565.3 L1419.2,562.3 L1419.5,559.3 L1419.8,556.3 L1420.1,553.3 L1420.4,550.4 L1420.7,547.4 L1421.1,544.4 L1421.4,541.4 L1421.7,538.4 L1422.0,535.4 L1422.3,532.5 L1422.6,529.5 L1423.0,526.5 L1423.3,523.5 L1423.6,520.5 L1424.0,517.6 L1424.3,514.6 L1424.6,511.6 L1424.9,508.6 L1425.3,505.6 L1425.6,502.6 L1425.9,499.7 L1426.3,496.7 L1426.6,493.7 L1427.0,490.7 L1427.3,487.7 L1427.7,484.8 L1428.0,481.8 L1428.4,478.8 L1428.7,475.8 L1429.1,472.9 L1429.5,469.9 L1429.9,466.9 L1430.3,464.0 L1430.8,461.0 L1431.3,458.0 L1431.8,455.1 L1432.3,452.2 L1432.9,449.2 L1433.6,446.3 L1434.4,443.5 L1435.3,440.6 L1436.4,437.9 L1437.7,435.3 L1439.3,432.9 L1441.3,431.1 L1443.8,430.6 L1446.3,431.3 L1448.5,433.0 L1450.5,435.0 L1452.3,437.3 L1454.0,439.7 L1455.6,442.2 L1457.0,444.8 L1458.3,447.5 L1459.5,450.2 L1460.6,453.0 L1461.7,455.8 L1462.7,458.6 L1463.6,461.4 L1464.6,464.2 L1465.5,467.1 L1466.4,469.9 L1467.4,472.8 L1468.3,475.6 L1469.2,478.5 L1470.1,481.3 L1471.0,484.2 L1471.9,487.1 L1472.8,489.9 L1473.7,492.8 L1474.6,495.6 L1475.5,498.5 L1476.4,501.4 L1477.2,504.2 L1478.1,507.1 L1479.0,510.0 L1479.8,512.9 L1480.7,515.7 L1481.6,518.6 L1482.4,521.5 L1483.3,524.3 L1484.2,527.2 L1485.0,530.1 L1485.9,533.0 L1486.7,535.8 L1487.6,538.7 L1488.4,541.6 L1489.3,544.5 L1490.1,547.3 L1491.0,550.2 L1491.8,553.1 L1492.7,556.0 L1493.6,558.8 L1494.4,561.7 L1495.3,564.6 L1496.1,567.4 L1497.0,570.3 L1497.9,573.2 L1498.7,576.0 L1499.6,578.9 L1500.4,581.8 L1501.3,584.7 L1502.1,587.5 L1503.0,590.4 L1503.8,593.3 L1504.6,596.2 L1505.5,599.1 L1506.3,601.9 L1507.1,604.8 L1507.9,607.7 L1508.7,610.6 L1509.4,613.5 L1510.2,616.4 L1511.0,619.3 L1511.7,622.2 L1512.5,625.1 L1513.3,628.0 L1514.0,630.9 L1514.8,633.8 L1515.6,636.7 L1516.3,639.6 L1517.1,642.5 L1517.9,645.4 L1518.6,648.3 L1519.4,651.2 L1520.2,654.1 L1521.0,657.0 L1521.8,659.8 L1522.6,662.7 L1523.4,665.6 L1524.2,668.5 L1525.0,671.4 L1525.8,674.3 L1526.7,677.2 L1527.5,680.0 L1528.3,682.9 L1529.1,685.8 L1530.0,688.7 L1530.8,691.6 L1531.6,694.5 L1532.5,697.3 L1533.3,700.2 L1534.1,703.1 L1535.0,706.0 L1535.8,708.9 L1536.6,711.7 L1537.5,714.6 L1538.3,717.5 L1539.1,720.4 L1540.0,723.3 L1540.8,726.2 L1541.6,729.0 L1542.5,731.9 L1543.3,734.8 L1544.1,737.7 L1545.0,740.6 L1545.8,743.4 L1546.7,746.3 L1547.5,749.2 L1548.3,752.1 L1549.2,755.0 L1550.0,757.8 L1550.8,760.7 L1551.7,763.6 L1552.5,766.5 L1553.3,769.4 L1554.1,772.3 L1555.0,775.1 L1555.8,778.0 L1556.6,780.9 L1557.4,783.8 L1558.2,786.7 L1559.0,789.6 L1559.9,792.5 L1560.7,795.3 L1561.5,798.2 L1562.3,801.1 L1563.1,804.0 L1563.9,806.9 L1564.7,809.8 L1565.6,812.7 L1566.4,815.6 L1567.2,818.4 L1568.0,821.3 L1568.9,824.2 L1569.7,827.1 L1570.6,829.9 L1571.4,832.8 L1572.3,835.7 L1573.2,838.6 L1574.1,841.4 L1575.0,844.3 L1575.9,847.1 L1576.8,850.0 L1577.7,852.9 L1578.6,855.7 L1579.5,858.6 L1580.4,861.4 L1581.4,864.3 L1582.3,867.1 L1583.3,870.0 L1584.2,872.8 L1585.2,875.7 L1586.1,878.5 L1587.1,881.3 L1588.0,884.2 L1589.0,887.0 L1589.9,889.9 L1590.9,892.7 L1591.8,895.6 L1592.8,898.4 L1593.7,901.3 L1594.7,904.1 L1595.6,906.9 L1596.6,909.8 L1597.5,912.6 L1598.4,915.5 L1599.4,918.3 L1600.3,921.2 L1601.2,924.1 L1602.1,926.9 L1603.1,929.8 L1604.0,932.6 L1604.9,935.5 L1605.8,938.3 L1606.7,941.2 L1607.7,944.0 L1608.6,946.9 L1609.5,949.7 L1610.4,952.6 L1611.4,955.4 L1612.3,958.3 L1613.2,961.1 L1614.2,964.0 L1615.2,966.8 L1616.1,969.7 L1617.1,972.5 L1618.1,975.3 L1619.1,978.1 L1620.1,981.0 L1621.1,983.8 L1622.1,986.6 L1623.2,989.4 L1624.2,992.2 L1625.2,995.0 L1626.3,997.9 L1627.4,1000.7 L1628.4,1003.5 L1629.5,1006.3 L1630.6,1009.1 L1631.6,1011.9 L1632.7,1014.7 L1633.8,1017.5 L1634.9,1020.2 L1636.0,1023.0 L1637.1,1025.8 L1638.2,1028.6 L1639.3,1031.4 L1640.4,1034.2 L1641.4,1037.0 L1642.5,1039.8 L1643.6,1042.6 L1644.7,1045.4 L1645.8,1048.2 L1646.9,1051.0 L1648.1,1053.7 L1649.2,1056.5 L1650.3,1059.3 L1651.4,1062.1 L1652.5,1064.9 L1653.7,1067.6 L1654.8,1070.4 L1656.0,1073.2 L1657.1,1075.9 L1658.3,1078.7 L1659.5,1081.5 L1660.7,1084.2 L1661.9,1087.0 L1663.1,1089.7 L1664.3,1092.5 L1665.5,1095.2 L1666.7,1097.9 L1667.9,1100.7 L1669.2,1103.4 L1670.4,1106.1 L1671.7,1108.9 L1672.9,1111.6 L1674.2,1114.3 L1675.4,1117.0 L1676.7,1119.8 L1677.9,1122.5 L1679.2,1125.2 L1680.5,1127.9 L1681.7,1130.6 L1683.0,1133.4 L1684.3,1136.1 L1685.5,1138.8 L1686.8,1141.5 L1688.0,1144.3 L1689.3,1147.0 L1690.5,1149.7 L1691.8,1152.4 L1693.1,1155.2 L1694.3,1157.9 L1695.6,1160.6 L1696.8,1163.3 L1698.1,1166.1 L1699.3,1168.8 L1700.6,1171.5 L1701.8,1174.2 L1703.1,1177.0 L1704.3,1179.7 L1705.6,1182.4 L1706.9,1185.1 L1708.1,1187.8 L1709.4,1190.6 L1710.7,1193.3 L1712.0,1196.0 L1713.3,1198.7 L1714.6,1201.4 L1715.9,1204.1 L1717.2,1206.8 L1718.5,1209.5 L1719.8,1212.2 L1721.1,1214.9 L1722.5,1217.5 L1723.8,1220.2 L1725.2,1222.9 L1726.5,1225.6 L1727.9,1228.3 L1729.2,1230.9 L1730.6,1233.6 L1732.0,1236.3 L1733.4,1238.9 L1734.7,1241.6 L1736.1,1244.2 L1737.5,1246.9 L1738.9,1249.6 L1740.3,1252.2 L1741.7,1254.9 L1743.1,1257.5 L1744.5,1260.2 L1745.9,1262.8 L1747.4,1265.4 L1748.8,1268.1 L1750.2,1270.7 L1751.6,1273.4 L1753.1,1276.0 L1754.5,1278.7 L1755.9,1281.3 L1757.3,1283.9 L1758.8,1286.6 L1760.2,1289.2 L1761.6,1291.8 L1763.1,1294.5 L1764.5,1297.1 L1765.9,1299.7 L1767.4,1302.4 L1768.8,1305.0 L1770.2,1307.6 L1771.6,1310.3 L1773.1,1312.9 L1774.5,1315.6 L1775.9,1318.2 L1777.3,1320.9 L1778.7,1323.5 L1780.1,1326.2 L1781.5,1328.8 L1782.9,1331.5 L1784.3,1334.1 L1785.7,1336.8 L1787.1,1339.4 L1788.5,1342.1 L1789.9,1344.7 L1791.3,1347.4 L1792.7,1350.0 L1794.1,1352.6 L1795.5,1355.3 L1796.9,1357.9 L1798.4,1360.5 L1799.9,1363.1 L1801.3,1365.7 L1802.8,1368.3 L1804.3,1370.9 L1805.9,1373.5 L1807.4,1376.0 L1809.0,1378.6 L1810.6,1381.1 L1812.2,1383.6 L1813.8,1386.1 L1815.5,1388.6 L1817.1,1391.1 L1818.8,1393.6 L1820.5,1396.0 L1822.2,1398.5 L1824.0,1400.9 L1825.8,1403.3 L1827.6,1405.7 L1829.4,1408.1 L1831.2,1410.4 L1833.0,1412.8 L1834.9,1415.1 L1836.8,1417.4 L1838.7,1419.7 L1840.6,1422.0 L1842.6,1424.3 L1844.6,1426.5 L1846.6,1428.7 L1848.6,1430.9 L1850.6,1433.1 L1852.6,1435.3 L1854.7,1437.5 L1856.8,1439.6 L1858.9,1441.8 L1861.0,1443.9 L1863.1,1446.0 L1865.2,1448.1 L1867.4,1450.2 L1869.5,1452.3 L1871.7,1454.3 L1873.8,1456.4 L1876.0,1458.5 L1878.2,1460.5 L1880.4,1462.6 L1882.5,1464.7 L1884.7,1466.7 L1886.9,1468.8 L1889.1,1470.8 L1891.3,1472.9 L1893.4,1474.9 L1895.6,1477.0 L1897.8,1479.1 L1900.0,1481.1 L1902.1,1483.2 L1904.3,1485.2 L1906.5,1487.3 L1908.7,1489.3 L1910.9,1491.4 L1913.0,1493.4 L1915.2,1495.5 L1917.4,1497.5 L1919.6,1499.5 L1921.9,1501.5 L1924.1,1503.5 L1926.3,1505.4 L1928.6,1507.4 L1930.9,1509.3 L1933.1,1511.2 L1935.5,1513.0 L1937.8,1514.9 L1940.1,1516.7 L1942.5,1518.5 L1944.9,1520.2 L1947.3,1521.9 L1949.8,1523.6 L1952.3,1525.2 L1954.7,1526.8 L1957.3,1528.4 L1959.8,1530.0 L1962.4,1531.5 L1964.9,1532.9 L1967.5,1534.4 L1970.1,1535.8 L1972.8,1537.2 L1975.4,1538.6 L1978.1,1539.9 L1980.8,1541.2 L1983.5,1542.5 L1986.2,1543.8 L1988.9,1545.0 L1991.6,1546.2 L1994.3,1547.4 L1997.1,1548.6 L1999.9,1549.7 L2002.6,1550.8 L2005.4,1551.9 L2008.2,1553.0 L2011.0,1554.1 L2013.8,1555.1 L2016.6,1556.2 L2019.4,1557.2 L2022.2,1558.2 L2025.1,1559.1 L2027.9,1560.1 L2030.8,1561.1 L2033.6,1562.0 L2036.4,1562.9 L2039.3,1563.8 L2042.2,1564.7 L2045.0,1565.6 L2047.9,1566.4 L2050.8,1567.3 L2053.7,1568.1 L2056.5,1568.9 L2059.4,1569.7 L2062.3,1570.5 L2065.2,1571.3 L2068.1,1572.1 L2071.0,1572.8 L2073.9,1573.6 L2076.8,1574.3 L2079.7,1575.0 L2082.6,1575.7 L2085.5,1576.4 L2088.5,1577.1 L2091.4,1577.7 L2094.3,1578.4 L2097.2,1579.0 L2100.2,1579.6 L2103.1,1580.2 L2106.0,1580.8 L2109.0,1581.4 L2111.9,1582.0 L2114.9,1582.5 L2117.8,1583.0 L2120.8,1583.5 L2123.8,1584.0 L2126.7,1584.5 L2129.7,1585.0 L2132.6,1585.4 L2135.6,1585.8 L2138.6,1586.2 L2141.6,1586.6 L2143.0,1586.9" stroke="#007f00" stroke-width="12.5" fill="none" stroke-linejoin="round" stroke-linecap="butt"/>
<path d="M448.0,1619.5 L451.0,1619.5 L454.0,1619.5 L457.0,1619.5 L460.0,1619.5 L463.0,1619.5 L466.0,1619.5 L469.0,1619.5 L472.0,1619.5 L475.0,1619.5 L478.0,1619.5 L481.0,1619.5 L484.0,1619.5 L487.0,1619.5 L490.0,1619.5 L493.0,1619.5 L496.0,1619.5 L499.0,1619.5 L502.0,1619.5 L505.0,1619.5 L508.0,1619.5 L511.0,1619.5 L514.0,1619.5 L517.0,1619.5 L520.0,1619.5 L523.0,1619.5 L526.0,1619.5 L529.0,1619.5 L532.0,1619.5 L535.0,1619.5 L538.0,1619.5 L541.0,1619.5 L544.0,1619.5 L547.0,1619.5 L550.0,1619.5 L553.0,1619.5 L556.0,1619.5 L559.0,1619.5 L562.0,1619.5 L565.0,1619.5 L568.0,1619.5 L571.0,1619.5 L574.0,1619.5 L577.0,1619.5 L580.0,1619.5 L583.0,1619.5 L586.0,1619.5 L589.0,1619.5 L592.0,1619.5 L595.0,1619.5 L598.0,1619.5 L601.0,1619.5 L604.0,1619.5 L607.0,1619.5 L610.0,1619.5 L613.0,1619.5 L616.0,1619.5 L619.0,1619.5 L622.0,1619.5 L625.0,1619.5 L628.0,1619.5 L631.0,1619.5 L634.0,1619.5 L637.0,1619.5 L640.0,1619.5 L643.0,1619.5 L646.0,1619.5 L649.0,1619.5 L652.0,1619.5 L655.0,1619.5 L658.0,1619.5 L661.0,1619.5 L664.0,1619.5 L667.0,1619.5 L670.0,1619.5 L673.0,1619.5 L676.0,1619.5 L679.0,1619.5 L682.0,1619.5 L685.0,1619.5 L688.0,1619.5 L691.0,1619.5 L694.0,1619.5 L697.0,1619.5 L700.0,1619.5 L703.0,1619.5 L706.0,1619.5 L709.0,1619.5 L712.0,1619.5 L715.0,1619.5 L718.0,1619.5 L721.0,1619.5 L724.0,1619.5 L727.0,1619.5 L730.0,1619.5 L733.0,1619.5 L736.0,1619.5 L739.0,1619.5 L742.0,1619.5 L745.0,1619.5 L748.0,1619.5 L751.0,1619.5 L754.0,1619.5 L757.0,1619.5 L760.0,1619.5 L763.0,1619.5 L766.0,1619.5 L769.0,1619.5 L772.0,1619.5 L775.0,1619.5 L778.0,1619.5 L781.0,1619.5 L784.0,1619.5 L787.0,1619.5 L790.0,1619.5 L793.0,1619.5 L796.0,1619.5 L799.0,1619.5 L802.0,1619.5 L805.0,1619.5 L808.0,1619.5 L811.0,1619.5 L814.0,1619.5 L817.0,1619.5 L820.0,1619.5 L823.0,1619.5 L826.0,1619.5 L829.0,1619.5 L832.0,1619.5 L835.0,1619.5 L838.0,1619.5 L841.0,1619.5 L844.0,1619.5 L847.0,1619.5 L850.0,1619.5 L853.0,1619.5 L856.0,1619.5 L859.0,1619.5 L862.0,1619.5 L865.0,1619.5 L868.0,1619.5 L871.0,1619.5 L874.0,1619.5 L877.0,1619.5 L880.0,1619.5 L883.0,1619.5 L886.0,1619.5 L889.0,1619.5 L892.0,1619.5 L895.0,1619.5 L898.0,1619.5 L901.0,1619.5 L904.0,1619.5 L907.0,1619.5 L910.0,1619.5 L913.0,1619.5 L916.0,1619.4 L919.0,1619.4 L922.0,1619.4 L925.0,1619.4 L928.0,1619.4 L931.0,1619.4 L934.0,1619.4 L937.0,1619.3 L940.0,1619.3 L943.0,1619.3 L946.0,1619.3 L949.0,1619.3 L952.0,1619.2 L955.0,1619.2 L958.0,1619.2 L961.0,1619.2 L964.0,1619.1 L967.0,1619.1 L970.0,1619.1 L973.0,1619.1 L976.0,1619.0 L979.0,1619.0 L982.0,1619.0 L985.0,1618.9 L988.0,1618.9 L991.0,1618.9 L994.0,1618.8 L997.0,1618.8 L1000.0,1618.8 L1003.0,1618.7 L1006.0,1618.7 L1009.0,1618.6 L1012.0,1618.6 L1015.0,1618.6 L1018.0,1618.5 L1021.0,1618.5 L1024.0,1618.4 L1027.0,1618.4 L1030.0,1618.3 L1033.0,1618.2 L1036.0,1618.2 L1039.0,1618.1 L1042.0,1618.0 L1045.0,1618.0 L1048.0,1617.9 L1051.0,1617.8 L1054.0,1617.7 L1057.0,1617.6 L1060.0,1617.4 L1063.0,1617.3 L1066.0,1617.2 L1069.0,1617.1 L1072.0,1616.9 L1075.0,1616.8 L1078.0,1616.6 L1081.0,1616.5 L1083.9,1616.3 L1086.9,1616.2 L1089.9,1616.0 L1092.9,1615.9 L1095.9,1615.7 L1098.9,1615.6 L1101.9,1615.3 L1104.9,1615.1 L1107.9,1614.9 L1110.9,1614.6 L1113.9,1614.3 L1116.9,1614.0 L1119.8,1613.6 L1122.8,1613.2 L1125.8,1612.8 L1128.7,1612.4 L1131.7,1611.9 L1134.6,1611.4 L1137.6,1610.8 L1140.5,1610.2 L1143.4,1609.4 L1146.3,1608.6 L1149.1,1607.6 L1151.9,1606.6 L1154.7,1605.4 L1157.4,1604.1 L1160.0,1602.7 L1162.6,1601.2 L1165.2,1599.6 L1167.7,1598.0 L1170.1,1596.2 L1172.4,1594.4 L1174.7,1592.5 L1176.9,1590.5 L1178.9,1588.3 L1180.9,1586.2 L1182.8,1583.9 L1184.6,1581.5 L1186.3,1579.1 L1188.0,1576.7 L1189.5,1574.2 L1191.0,1571.6 L1192.5,1569.1 L1193.9,1566.5 L1195.3,1563.8 L1196.6,1561.2 L1197.9,1558.5 L1199.1,1555.8 L1200.3,1553.1 L1201.5,1550.3 L1202.7,1547.6 L1203.9,1544.8 L1205.0,1542.1 L1206.1,1539.3 L1207.3,1536.5 L1208.4,1533.8 L1209.5,1531.0 L1210.6,1528.2 L1211.7,1525.5 L1212.8,1522.7 L1213.9,1519.9 L1214.9,1517.1 L1216.0,1514.3 L1217.0,1511.4 L1218.0,1508.6 L1219.0,1505.8 L1220.0,1503.0 L1221.0,1500.1 L1222.0,1497.3 L1223.0,1494.5 L1224.0,1491.6 L1224.9,1488.8 L1225.9,1486.0 L1226.9,1483.1 L1227.8,1480.3 L1228.8,1477.5 L1229.8,1474.6 L1230.8,1471.8 L1231.7,1468.9 L1232.7,1466.1 L1233.6,1463.3 L1234.6,1460.4 L1235.6,1457.6 L1236.5,1454.7 L1237.5,1451.9 L1238.4,1449.0 L1239.3,1446.2 L1240.3,1443.3 L1241.2,1440.5 L1242.1,1437.6 L1243.1,1434.8 L1244.0,1431.9 L1244.9,1429.1 L1245.8,1426.2 L1246.7,1423.4 L1247.6,1420.5 L1248.4,1417.6 L1249.3,1414.8 L1250.1,1411.9 L1251.0,1409.0 L1251.8,1406.1 L1252.6,1403.3 L1253.4,1400.4 L1254.2,1397.5 L1255.0,1394.6 L1255.8,1391.7 L1256.5,1388.8 L1257.3,1385.9 L1258.0,1383.0 L1258.7,1380.1 L1259.5,1377.2 L1260.2,1374.3 L1260.8,1371.3 L1261.5,1368.4 L1262.2,1365.5 L1262.9,1362.6 L1263.5,1359.7 L1264.2,1356.7 L1264.8,1353.8 L1265.4,1350.9 L1266.1,1347.9 L1266.7,1345.0 L1267.3,1342.1 L1267.9,1339.1 L1268.6,1336.2 L1269.2,1333.3 L1269.8,1330.3 L1270.4,1327.4 L1271.0,1324.5 L1271.6,1321.5 L1272.2,1318.6 L1272.8,1315.6 L1273.4,1312.7 L1274.0,1309.8 L1274.6,1306.8 L1275.2,1303.9 L1275.8,1300.9 L1276.4,1298.0 L1277.0,1295.1 L1277.6,1292.1 L1278.1,1289.2 L1278.7,1286.2 L1279.3,1283.3 L1279.9,1280.3 L1280.5,1277.4 L1281.1,1274.5 L1281.7,1271.5 L1282.3,1268.6 L1282.9,1265.6 L1283.5,1262.7 L1284.1,1259.8 L1284.7,1256.8 L1285.3,1253.9 L1285.9,1251.0 L1286.5,1248.0 L1287.1,1245.1 L1287.7,1242.1 L1288.3,1239.2 L1289.0,1236.3 L1289.6,1233.3 L1290.2,1230.4 L1290.9,1227.5 L1291.5,1224.5 L1292.2,1221.6 L1292.8,1218.7 L1293.5,1215.8 L1294.1,1212.8 L1294.8,1209.9 L1295.4,1207.0 L1296.1,1204.1 L1296.8,1201.1 L1297.4,1198.2 L1298.1,1195.3 L1298.8,1192.4 L1299.4,1189.4 L1300.1,1186.5 L1300.8,1183.6 L1301.5,1180.7 L1302.2,1177.7 L1302.8,1174.8 L1303.5,1171.9 L1304.2,1169.0 L1304.9,1166.1 L1305.6,1163.1 L1306.3,1160.2 L1307.0,1157.3 L1307.7,1154.4 L1308.4,1151.5 L1309.1,1148.6 L1309.8,1145.7 L1310.5,1142.7 L1311.3,1139.8 L1312.0,1136.9 L1312.7,1134.0 L1313.5,1131.1 L1314.2,1128.2 L1315.0,1125.3 L1315.8,1122.4 L1316.5,1119.5 L1317.3,1116.6 L1318.1,1113.7 L1318.9,1110.8 L1319.7,1107.9 L1320.5,1105.0 L1321.3,1102.2 L1322.1,1099.3 L1322.9,1096.4 L1323.7,1093.5 L1324.6,1090.6 L1325.4,1087.7 L1326.2,1084.8 L1327.1,1082.0 L1327.9,1079.1 L1328.8,1076.2 L1329.6,1073.3 L1330.5,1070.5 L1331.3,1067.6 L1332.2,1064.7 L1333.1,1061.9 L1334.0,1059.0 L1334.9,1056.2 L1335.8,1053.3 L1336.7,1050.5 L1337.7,1047.6 L1338.6,1044.8 L1339.6,1042.0 L1340.6,1039.2 L1341.6,1036.4 L1342.7,1033.6 L1343.8,1030.8 L1344.9,1028.1 L1346.0,1025.3 L1347.1,1022.6 L1348.2,1019.8 L1349.3,1017.1 L1350.5,1014.3 L1351.7,1011.6 L1353.0,1009.0 L1354.3,1006.3 L1355.6,1003.7 L1357.0,1001.1 L1358.5,998.5 L1360.0,996.0 L1361.6,993.5 L1363.3,991.1 L1365.0,988.7 L1366.8,986.3 L1368.7,984.0 L1370.6,981.8 L1372.6,979.6 L1374.7,977.5 L1376.8,975.5 L1379.1,973.5 L1381.4,971.7 L1383.8,970.1 L1386.3,968.6 L1389.0,967.2 L1391.7,966.1 L1394.5,965.1 L1397.4,964.4 L1400.3,963.8 L1403.3,963.4 L1406.2,963.2 L1409.2,963.4 L1412.1,964.0 L1415.0,964.8 L1417.8,965.7 L1420.6,966.8 L1423.4,967.9 L1426.1,969.2 L1428.7,970.6 L1431.3,972.0 L1433.9,973.5 L1436.4,975.1 L1438.9,976.8 L1441.4,978.4 L1443.8,980.1 L1446.3,981.8 L1448.7,983.6 L1451.2,985.3 L1453.6,987.1 L1456.0,988.9 L1458.4,990.7 L1460.7,992.5 L1463.1,994.4 L1465.4,996.2 L1467.6,998.2 L1469.9,1000.1 L1472.1,1002.1 L1474.3,1004.2 L1476.4,1006.2 L1478.5,1008.3 L1480.5,1010.5 L1482.6,1012.6 L1484.7,1014.7 L1486.7,1016.8 L1488.7,1019.0 L1490.7,1021.2 L1492.7,1023.5 L1494.6,1025.7 L1496.4,1028.0 L1498.3,1030.4 L1500.1,1032.7 L1501.9,1035.1 L1503.6,1037.5 L1505.3,1039.9 L1507.0,1042.4 L1508.7,1044.8 L1510.3,1047.3 L1512.0,1049.8 L1513.6,1052.3 L1515.2,1054.9 L1516.7,1057.4 L1518.3,1059.9 L1519.8,1062.5 L1521.4,1065.1 L1522.9,1067.6 L1524.5,1070.2 L1526.0,1072.8 L1527.5,1075.4 L1529.0,1078.0 L1530.5,1080.5 L1532.0,1083.1 L1533.6,1085.7 L1535.1,1088.3 L1536.6,1090.9 L1538.1,1093.5 L1539.6,1096.1 L1541.1,1098.7 L1542.6,1101.3 L1544.1,1103.9 L1545.6,1106.4 L1547.2,1109.0 L1548.7,1111.6 L1550.2,1114.2 L1551.7,1116.8 L1553.2,1119.4 L1554.7,1122.0 L1556.2,1124.6 L1557.7,1127.2 L1559.1,1129.8 L1560.6,1132.4 L1562.1,1135.0 L1563.6,1137.6 L1565.1,1140.3 L1566.6,1142.9 L1568.0,1145.5 L1569.5,1148.1 L1571.0,1150.7 L1572.5,1153.3 L1574.0,1155.9 L1575.4,1158.5 L1576.9,1161.1 L1578.4,1163.7 L1579.9,1166.3 L1581.4,1168.9 L1582.9,1171.5 L1584.4,1174.1 L1585.9,1176.7 L1587.4,1179.3 L1588.9,1181.9 L1590.4,1184.5 L1591.9,1187.1 L1593.5,1189.7 L1595.0,1192.2 L1596.5,1194.8 L1598.1,1197.4 L1599.6,1199.9 L1601.2,1202.5 L1602.8,1205.1 L1604.4,1207.6 L1606.0,1210.1 L1607.6,1212.7 L1609.2,1215.2 L1610.8,1217.7 L1612.4,1220.3 L1614.0,1222.8 L1615.7,1225.3 L1617.3,1227.8 L1618.9,1230.3 L1620.6,1232.8 L1622.2,1235.3 L1623.9,1237.8 L1625.6,1240.3 L1627.2,1242.8 L1628.9,1245.3 L1630.6,1247.8 L1632.3,1250.3 L1633.9,1252.8 L1635.6,1255.2 L1637.3,1257.7 L1639.0,1260.2 L1640.7,1262.7 L1642.4,1265.1 L1644.1,1267.6 L1645.8,1270.1 L1647.5,1272.6 L1649.2,1275.0 L1650.9,1277.5 L1652.6,1280.0 L1654.3,1282.4 L1656.1,1284.9 L1657.8,1287.3 L1659.5,1289.8 L1661.2,1292.2 L1663.0,1294.7 L1664.7,1297.1 L1666.5,1299.6 L1668.2,1302.0 L1670.0,1304.4 L1671.7,1306.8 L1673.5,1309.3 L1675.3,1311.7 L1677.1,1314.1 L1678.8,1316.5 L1680.6,1318.9 L1682.4,1321.3 L1684.2,1323.7 L1686.0,1326.1 L1687.9,1328.5 L1689.7,1330.9 L1691.5,1333.3 L1693.3,1335.6 L1695.1,1338.0 L1696.9,1340.4 L1698.8,1342.8 L1700.6,1345.2 L1702.4,1347.5 L1704.2,1349.9 L1706.1,1352.3 L1707.9,1354.7 L1709.7,1357.0 L1711.6,1359.4 L1713.4,1361.8 L1715.2,1364.1 L1717.1,1366.5 L1718.9,1368.9 L1720.8,1371.2 L1722.6,1373.6 L1724.5,1375.9 L1726.3,1378.3 L1728.2,1380.6 L1730.1,1382.9 L1732.0,1385.2 L1733.9,1387.6 L1735.8,1389.9 L1737.7,1392.2 L1739.7,1394.4 L1741.6,1396.7 L1743.6,1399.0 L1745.5,1401.3 L1747.5,1403.5 L1749.5,1405.7 L1751.5,1408.0 L1753.5,1410.2 L1755.5,1412.4 L1757.5,1414.6 L1759.6,1416.8 L1761.6,1419.0 L1763.7,1421.2 L1765.7,1423.4 L1767.8,1425.6 L1769.8,1427.7 L1771.9,1429.9 L1774.0,1432.1 L1776.1,1434.2 L1778.1,1436.4 L1780.2,1438.5 L1782.3,1440.7 L1784.4,1442.8 L1786.5,1445.0 L1788.6,1447.1 L1790.7,1449.2 L1792.8,1451.4 L1794.9,1453.5 L1797.0,1455.6 L1799.1,1457.8 L1801.2,1459.9 L1803.4,1462.0 L1805.5,1464.1 L1807.6,1466.2 L1809.7,1468.3 L1811.9,1470.4 L1814.1,1472.5 L1816.2,1474.5 L1818.4,1476.6 L1820.6,1478.6 L1822.8,1480.6 L1825.0,1482.6 L1827.3,1484.6 L1829.5,1486.6 L1831.8,1488.5 L1834.1,1490.4 L1836.4,1492.4 L1838.7,1494.2 L1841.0,1496.1 L1843.4,1498.0 L1845.7,1499.8 L1848.1,1501.6 L1850.5,1503.4 L1852.9,1505.2 L1855.3,1506.9 L1857.8,1508.7 L1860.2,1510.4 L1862.7,1512.1 L1865.1,1513.8 L1867.6,1515.4 L1870.1,1517.1 L1872.6,1518.7 L1875.2,1520.3 L1877.7,1521.9 L1880.2,1523.5 L1882.8,1525.1 L1885.3,1526.6 L1887.9,1528.1 L1890.5,1529.7 L1893.1,1531.2 L1895.7,1532.6 L1898.3,1534.1 L1900.9,1535.6 L1903.5,1537.0 L1906.2,1538.4 L1908.8,1539.8 L1911.5,1541.2 L1914.2,1542.5 L1916.8,1543.9 L1919.5,1545.2 L1922.2,1546.5 L1924.9,1547.8 L1927.6,1549.1 L1930.3,1550.4 L1933.0,1551.6 L1935.8,1552.8 L1938.5,1554.0 L1941.3,1555.2 L1944.0,1556.4 L1946.8,1557.5 L1949.6,1558.7 L1952.3,1559.8 L1955.1,1560.9 L1957.9,1562.0 L1960.7,1563.0 L1963.5,1564.1 L1966.3,1565.1 L1969.1,1566.1 L1972.0,1567.1 L1974.8,1568.1 L1977.6,1569.0 L1980.5,1569.9 L1983.3,1570.9 L1986.2,1571.8 L1989.1,1572.6 L1991.9,1573.5 L1994.8,1574.4 L1997.7,1575.2 L2000.5,1576.0 L2003.4,1576.8 L2006.3,1577.6 L2009.2,1578.4 L2012.1,1579.2 L2015.0,1580.0 L2017.9,1580.7 L2020.8,1581.5 L2023.7,1582.2 L2026.6,1582.9 L2029.5,1583.6 L2032.5,1584.3 L2035.4,1585.0 L2038.3,1585.6 L2041.2,1586.3 L2044.1,1586.9 L2047.1,1587.5 L2050.0,1588.2 L2052.9,1588.8 L2055.9,1589.3 L2058.8,1589.9 L2061.8,1590.5 L2064.7,1591.0 L2067.7,1591.5 L2070.6,1592.1 L2073.6,1592.6 L2076.5,1593.1 L2079.5,1593.6 L2082.4,1594.0 L2085.4,1594.5 L2088.4,1594.9 L2091.3,1595.4 L2094.3,1595.8 L2097.3,1596.2 L2100.2,1596.6 L2103.2,1596.9 L2106.2,1597.3 L2109.2,1597.7 L2112.1,1598.0 L2115.1,1598.3 L2118.1,1598.6 L2121.1,1598.9 L2124.1,1599.1 L2127.1,1599.4 L2130.1,1599.6 L2133.1,1599.8 L2136.1,1600.0 L2139.0,1600.2 L2142.0,1600.4 L2143.5,1600.5" stroke="#0066ff" stroke-width="12.5" fill="none" stroke-linejoin="round" stroke-linecap="butt"/>
<path d="M780.0,1620.0 L783.0,1620.0 L786.0,1620.0 L789.0,1620.0 L792.0,1620.0 L795.0,1620.0 L798.0,1620.0 L801.0,1620.0 L804.0,1620.0 L807.0,1620.0 L810.0,1620.0 L813.0,1620.0 L816.0,1620.0 L819.0,1620.0 L822.0,1620.0 L825.0,1620.0 L828.0,1620.0 L831.0,1620.0 L834.0,1620.0 L837.0,1620.0 L840.0,1620.0 L843.0,1620.0 L846.0,1620.0 L849.0,1620.0 L852.0,1620.0 L855.0,1620.0 L858.0,1620.0 L861.0,1620.0 L864.0,1620.0 L867.0,1620.0 L870.0,1620.0 L873.0,1620.0 L876.0,1620.0 L879.0,1620.0 L882.0,1620.0 L885.0,1620.0 L888.0,1620.0 L891.0,1620.0 L894.0,1620.0 L897.0,1620.0 L900.0,1620.0 L903.0,1620.0 L906.0,1620.0 L909.0,1620.0 L912.0,1620.0 L915.0,1620.0 L918.0,1620.0 L921.0,1620.0 L924.0,1620.0 L927.0,1620.0 L930.0,1620.0 L933.0,1620.0 L936.0,1620.0 L939.0,1620.0 L942.0,1620.0 L945.0,1620.0 L948.0,1620.0 L951.0,1620.0 L954.0,1620.0 L957.0,1620.0 L960.0,1620.0 L963.0,1620.0 L966.0,1620.0 L969.0,1620.0 L972.0,1620.0 L975.0,1620.0 L978.0,1620.0 L981.0,1620.0 L984.0,1620.0 L987.0,1620.0 L990.0,1620.0 L993.0,1620.0 L996.0,1620.0 L999.0,1620.0 L1002.0,1620.0 L1005.0,1620.0 L1008.0,1620.0 L1011.0,1620.0 L1014.0,1620.0 L1017.0,1620.0 L1020.0,1620.0 L1023.0,1620.0 L1026.0,1620.0 L1029.0,1620.0 L1032.0,1620.0 L1035.0,1620.0 L1038.0,1620.0 L1041.0,1620.0 L1044.0,1620.0 L1047.0,1620.0 L1050.0,1620.0 L1053.0,1620.0 L1056.0,1620.0 L1059.0,1620.0 L1062.0,1620.0 L1065.0,1620.0 L1068.0,1620.0 L1071.0,1620.0 L1074.0,1620.0 L1077.0,1620.0 L1080.0,1620.0 L1083.0,1620.0 L1086.0,1620.0 L1089.0,1620.0 L1092.0,1620.0 L1095.0,1620.0 L1098.0,1620.0 L1101.0,1620.0 L1104.0,1620.0 L1107.0,1620.0 L1110.0,1620.0 L1113.0,1620.0 L1116.0,1620.0 L1119.0,1620.0 L1122.0,1620.0 L1125.0,1620.0 L1128.0,1620.0 L1131.0,1620.0 L1134.0,1620.0 L1137.0,1620.0 L1140.0,1620.0 L1143.0,1620.0 L1146.0,1620.0 L1149.0,1620.0 L1152.0,1620.0 L1155.0,1620.0 L1158.0,1620.0 L1161.0,1620.0 L1164.0,1620.0 L1167.0,1620.0 L1170.0,1620.0 L1173.0,1620.0 L1176.0,1620.0 L1179.0,1620.0 L1182.0,1620.0 L1185.0,1620.0 L1188.0,1620.0 L1191.0,1620.0 L1194.0,1620.0 L1197.0,1620.0 L1200.0,1620.0 L1203.0,1620.0 L1206.0,1620.0 L1209.0,1620.0 L1212.0,1620.0 L1215.0,1620.0 L1218.0,1620.0 L1221.0,1620.0 L1224.0,1620.0 L1227.0,1620.0 L1230.0,1620.0 L1233.0,1620.0 L1236.0,1620.0 L1239.0,1620.0 L1242.0,1620.0 L1245.0,1620.0 L1248.0,1620.0 L1251.0,1620.0 L1254.0,1620.0 L1257.0,1620.0 L1260.0,1620.0 L1263.0,1619.9 L1266.0,1619.9 L1269.0,1619.9 L1272.0,1619.8 L1275.0,1619.7 L1278.0,1619.6 L1281.0,1619.5 L1284.0,1619.3 L1287.0,1619.2 L1290.0,1618.9 L1292.9,1618.7 L1295.9,1618.3 L1298.9,1618.0 L1301.9,1617.5 L1304.8,1617.0 L1307.8,1616.5 L1310.7,1615.9 L1313.7,1615.3 L1316.6,1614.7 L1319.5,1614.0 L1322.4,1613.3 L1325.3,1612.5 L1328.2,1611.7 L1331.1,1610.9 L1334.0,1610.1 L1336.9,1609.3 L1339.7,1608.4 L1342.6,1607.5 L1345.4,1606.5 L1348.2,1605.5 L1350.9,1604.3 L1353.6,1602.9 L1356.1,1601.3 L1358.6,1599.6 L1361.1,1597.9 L1363.5,1596.2 L1366.1,1594.6 L1368.7,1593.1 L1371.3,1591.6 L1373.9,1590.3 L1376.7,1589.1 L1379.3,1587.8 L1382.1,1586.6 L1384.8,1585.5 L1387.7,1584.5 L1390.5,1583.7 L1393.4,1583.0 L1396.4,1582.5 L1399.4,1582.1 L1402.3,1582.1 L1405.3,1582.3 L1408.3,1582.7 L1411.1,1583.4 L1413.9,1584.3 L1416.7,1585.4 L1419.4,1586.7 L1422.1,1588.0 L1424.7,1589.3 L1427.4,1590.7 L1430.0,1592.1 L1432.7,1593.5 L1435.3,1594.9 L1437.9,1596.3 L1440.6,1597.7 L1443.2,1599.1 L1445.9,1600.5 L1448.6,1601.8 L1451.3,1603.0 L1454.1,1604.2 L1456.9,1605.2 L1459.7,1606.2 L1462.6,1607.1 L1465.5,1607.9 L1468.4,1608.6 L1471.3,1609.2 L1474.3,1609.7 L1477.2,1610.2 L1480.2,1610.7 L1483.2,1611.2 L1486.1,1611.6 L1489.1,1612.0 L1492.1,1612.4 L1495.0,1612.8 L1498.0,1613.2 L1501.0,1613.6 L1504.0,1614.0 L1506.9,1614.4 L1509.9,1614.7 L1512.9,1615.1 L1515.9,1615.4 L1518.9,1615.7 L1521.8,1616.0 L1524.8,1616.3 L1527.8,1616.5 L1530.8,1616.8 L1533.8,1617.0 L1536.8,1617.3 L1539.8,1617.5 L1542.8,1617.7 L1545.8,1618.0 L1548.8,1618.2 L1551.8,1618.4 L1554.7,1618.6 L1557.7,1618.8 L1560.7,1618.9 L1563.7,1619.1 L1566.7,1619.2 L1569.7,1619.3 L1572.7,1619.3 L1575.7,1619.4 L1578.7,1619.5 L1581.7,1619.5 L1584.7,1619.6 L1587.7,1619.6 L1590.7,1619.7 L1593.7,1619.7 L1596.7,1619.7 L1599.7,1619.8 L1602.7,1619.8 L1605.7,1619.8 L1608.7,1619.8 L1611.7,1619.9 L1614.7,1619.9 L1617.7,1619.9 L1620.7,1619.9 L1623.7,1619.9 L1626.7,1619.9 L1629.7,1619.9 L1632.7,1619.9 L1635.7,1620.0 L1638.7,1620.0 L1641.7,1620.0 L1644.7,1620.0 L1647.7,1620.0 L1650.7,1620.0 L1653.7,1620.0 L1656.7,1620.0 L1659.7,1620.0 L1662.7,1620.0 L1665.7,1620.0 L1668.7,1620.0 L1671.7,1620.0 L1674.7,1620.0 L1677.7,1620.0 L1680.7,1620.0 L1683.7,1620.0 L1686.7,1620.0 L1689.7,1620.0 L1692.7,1620.0 L1695.7,1620.0 L1698.7,1620.0 L1701.7,1620.0 L1704.7,1620.0 L1707.7,1620.0 L1710.7,1620.0 L1713.7,1620.0 L1716.7,1620.0 L1719.7,1620.0 L1722.7,1620.0 L1725.7,1620.0 L1728.7,1620.0 L1731.7,1620.0 L1734.7,1620.0 L1737.7,1620.0 L1740.7,1620.0 L1743.7,1620.0 L1746.7,1620.0 L1749.7,1620.0 L1752.7,1620.0 L1755.7,1620.0 L1758.7,1620.0 L1761.7,1620.0 L1764.7,1620.0 L1767.7,1620.0 L1770.7,1620.0 L1773.7,1620.0 L1776.7,1620.0 L1779.7,1620.0 L1782.7,1620.0 L1785.7,1620.0 L1788.7,1620.0 L1791.7,1620.0 L1794.7,1620.0 L1797.7,1620.0 L1800.7,1620.0 L1803.7,1620.0 L1806.7,1620.0 L1809.7,1620.0 L1812.7,1620.0 L1815.7,1620.0 L1818.7,1620.0 L1821.7,1620.0 L1824.7,1620.0 L1827.7,1620.0 L1830.7,1620.0 L1833.7,1620.0 L1836.7,1620.0 L1839.7,1620.0 L1842.7,1620.0 L1845.7,1620.0 L1848.7,1620.0 L1851.7,1620.0 L1854.7,1620.0 L1857.7,1620.0 L1860.7,1620.0 L1863.7,1620.0 L1866.7,1620.0 L1869.7,1620.0 L1872.7,1620.0 L1875.7,1620.0 L1878.7,1620.0 L1881.7,1620.0 L1884.7,1620.0 L1887.7,1620.0 L1890.7,1620.0 L1893.7,1620.0 L1896.7,1620.0 L1899.7,1620.0 L1902.7,1620.0 L1905.7,1620.0 L1905.7,1620.0" stroke="#d24fe0" stroke-width="12.5" fill="none" stroke-linejoin="round" stroke-linecap="butt"/>
<rect x="448.5" y="72" width="1690.5" height="1547.5" fill="none" stroke="#111" stroke-width="4"/>
<path d="M482.3,1619.5v-13 M482.3,72v13 M549.9,1619.5v-13 M549.9,72v13 M617.5,1619.5v-22 M617.5,72v22 M685.2,1619.5v-13 M685.2,72v13 M752.8,1619.5v-13 M752.8,72v13 M820.4,1619.5v-13 M820.4,72v13 M888.0,1619.5v-13 M888.0,72v13 M955.6,1619.5v-22 M955.6,72v22 M1023.3,1619.5v-13 M1023.3,72v13 M1090.9,1619.5v-13 M1090.9,72v13 M1158.5,1619.5v-13 M1158.5,72v13 M1226.1,1619.5v-13 M1226.1,72v13 M1293.8,1619.5v-22 M1293.8,72v22 M1361.4,1619.5v-13 M1361.4,72v13 M1429.0,1619.5v-13 M1429.0,72v13 M1496.6,1619.5v-13 M1496.6,72v13 M1564.2,1619.5v-13 M1564.2,72v13 M1631.8,1619.5v-22 M1631.8,72v22 M1699.5,1619.5v-13 M1699.5,72v13 M1767.1,1619.5v-13 M1767.1,72v13 M1834.7,1619.5v-13 M1834.7,72v13 M1902.3,1619.5v-13 M1902.3,72v13 M1970.0,1619.5v-22 M1970.0,72v22 M2037.6,1619.5v-13 M2037.6,72v13 M2105.2,1619.5v-13 M2105.2,72v13 M448.5,1564.2h12.5 M2139,1564.2h-12.5 M448.5,1509.0h12.5 M2139,1509.0h-12.5 M448.5,1453.7h12.5 M2139,1453.7h-12.5 M448.5,1398.4h23 M2139,1398.4h-23 M448.5,1343.2h12.5 M2139,1343.2h-12.5 M448.5,1287.9h12.5 M2139,1287.9h-12.5 M448.5,1232.6h12.5 M2139,1232.6h-12.5 M448.5,1177.4h23 M2139,1177.4h-23 M448.5,1122.1h12.5 M2139,1122.1h-12.5 M448.5,1066.8h12.5 M2139,1066.8h-12.5 M448.5,1011.6h12.5 M2139,1011.6h-12.5 M448.5,956.3h23 M2139,956.3h-23 M448.5,901.0h12.5 M2139,901.0h-12.5 M448.5,845.8h12.5 M2139,845.8h-12.5 M448.5,790.5h12.5 M2139,790.5h-12.5 M448.5,735.2h23 M2139,735.2h-23 M448.5,679.9h12.5 M2139,679.9h-12.5 M448.5,624.7h12.5 M2139,624.7h-12.5 M448.5,569.4h12.5 M2139,569.4h-12.5 M448.5,514.1h23 M2139,514.1h-23 M448.5,458.9h12.5 M2139,458.9h-12.5 M448.5,403.6h12.5 M2139,403.6h-12.5 M448.5,348.3h12.5 M2139,348.3h-12.5 M448.5,293.1h23 M2139,293.1h-23 M448.5,237.8h12.5 M2139,237.8h-12.5 M448.5,182.5h12.5 M2139,182.5h-12.5 M448.5,127.3h12.5 M2139,127.3h-12.5" stroke="#111" stroke-width="4" fill="none"/>
<text transform="translate(618.8,1708.3) scale(1,1.025)" font-size="70.8" text-anchor="middle" fill="#000">300</text>
<text transform="translate(956.9,1708.3) scale(1,1.025)" font-size="70.8" text-anchor="middle" fill="#000">400</text>
<text transform="translate(1295.0,1708.3) scale(1,1.025)" font-size="70.8" text-anchor="middle" fill="#000">500</text>
<text transform="translate(1633.1,1708.3) scale(1,1.025)" font-size="70.8" text-anchor="middle" fill="#000">600</text>
<text transform="translate(1971.2,1708.3) scale(1,1.025)" font-size="70.8" text-anchor="middle" fill="#000">700</text>
<text transform="translate(407,1637.1) scale(1,1.025)" font-size="71.5" text-anchor="end" fill="#000">0</text>
<text transform="translate(406.5,1416.0) scale(1,1.025)" font-size="71.5" text-anchor="end" fill="#000">2 x 10<tspan font-size="47" dx="1.5" dy="-36.5">5</tspan></text>
<text transform="translate(406.5,1195.0) scale(1,1.025)" font-size="71.5" text-anchor="end" fill="#000">4 x 10<tspan font-size="47" dx="1.5" dy="-36.5">5</tspan></text>
<text transform="translate(406.5,973.9) scale(1,1.025)" font-size="71.5" text-anchor="end" fill="#000">6 x 10<tspan font-size="47" dx="1.5" dy="-36.5">5</tspan></text>
<text transform="translate(406.5,752.8) scale(1,1.025)" font-size="71.5" text-anchor="end" fill="#000">8 x 10<tspan font-size="47" dx="1.5" dy="-36.5">5</tspan></text>
<text transform="translate(406.5,531.7) scale(1,1.025)" font-size="71.5" text-anchor="end" fill="#000">1 x 10<tspan font-size="47" dx="1.5" dy="-36.5">6</tspan></text>
<text transform="translate(406.5,310.7) scale(1,1.025)" font-size="71.5" text-anchor="end" fill="#000">1.2 x 10<tspan font-size="47" dx="1.5" dy="-36.5">6</tspan></text>
<text transform="translate(406.5,89.6) scale(1,1.025)" font-size="71.5" text-anchor="end" fill="#000">1.4 x 10<tspan font-size="47" dx="1.5" dy="-36.5">6</tspan></text>
<text x="947.5" y="1869.7" font-size="86.9" font-weight="bold" fill="#000">Wavelength (nm)</text>
<text transform="translate(83.5,1286.4) rotate(-90)" font-size="87" font-weight="bold" fill="#000">RL amplitude (arb. u.)</text>
</svg></body></html>
